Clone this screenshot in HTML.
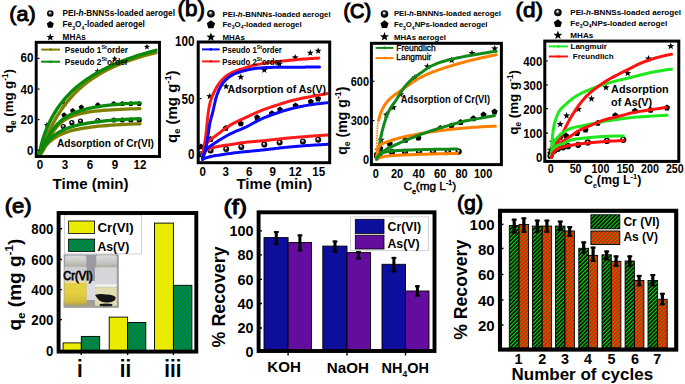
<!DOCTYPE html><html><head><meta charset="utf-8"><style>html,body{margin:0;padding:0;background:#fff;overflow:hidden}svg{display:block}text{font-family:"Liberation Sans",sans-serif;font-weight:bold}</style></head><body>
<svg width="685" height="384" viewBox="0 0 685 384">
<defs><pattern id="hatchE" patternUnits="userSpaceOnUse" width="3.3" height="3.3" patternTransform="rotate(45)"><rect width="3.3" height="3.3" fill="#007f7a"/><rect width="1.65" height="3.3" fill="#008a10"/></pattern><pattern id="hatchG" patternUnits="userSpaceOnUse" width="2.8" height="2.8" patternTransform="rotate(45)"><rect width="2.8" height="2.8" fill="#000"/><rect width="1.2" height="2.8" fill="#14d414"/></pattern><pattern id="hatchR" patternUnits="userSpaceOnUse" width="2.8" height="2.8" patternTransform="rotate(45)"><rect width="2.8" height="2.8" fill="#ff1200"/><rect width="0.95" height="2.8" fill="#4aa010"/></pattern><linearGradient id="photobg" x1="0" y1="0" x2="0" y2="1"><stop offset="0" stop-color="#b4b4ba"/><stop offset="1" stop-color="#a4a4aa"/></linearGradient><linearGradient id="capg" x1="0" y1="0" x2="0" y2="1"><stop offset="0" stop-color="#dcdcdc"/><stop offset="0.6" stop-color="#c6c4c0"/><stop offset="1" stop-color="#b0ac9e"/></linearGradient><linearGradient id="yliq" x1="0" y1="0" x2="0" y2="1"><stop offset="0" stop-color="#e2d04a"/><stop offset="0.5" stop-color="#e4d040"/><stop offset="0.85" stop-color="#d2be3a"/><stop offset="1" stop-color="#aca052"/></linearGradient></defs>
<defs><radialGradient id="ballg" cx="0.5" cy="0.5" r="0.5" fx="0.42" fy="0.33"><stop offset="0" stop-color="#fff"/><stop offset="0.18" stop-color="#ddd"/><stop offset="0.45" stop-color="#333"/><stop offset="0.8" stop-color="#000"/></radialGradient></defs>
<rect width="685" height="384" fill="#fff"/>
<text x="9.3" y="20.7" font-size="21" style="font-weight:normal" stroke="#000" stroke-width="0.95" textLength="26.4" lengthAdjust="spacingAndGlyphs">(a)</text>
<circle cx="50.3" cy="13.5" r="3.25" fill="url(#ballg)"/>
<path d="M50.3,20.97 L53.82,23.53 L52.47,27.66 L48.13,27.66 L46.78,23.53 Z" fill="#000"/>
<path d="M50.3,33.27 L51.3,35.93 L54.13,36.05 L51.91,37.82 L52.67,40.56 L50.3,38.99 L47.93,40.56 L48.69,37.82 L46.47,36.05 L49.3,35.93 Z" fill="#000"/>
<text x="62.6" y="16.4" font-size="8.22">PEI-<tspan font-style="italic">h</tspan>-BNNSs-loaded aerogel</text>
<text x="62.6" y="27" font-size="8.22">Fe<tspan font-size="5" dy="2.8">3</tspan><tspan dy="-2.8">O</tspan><tspan font-size="5" dy="2.8">4</tspan><tspan dy="-2.8">-loaded aerogel</tspan></text>
<text x="62.6" y="40" font-size="8.22">MHAs</text>
<path d="M46.9,121.8 L47.69,123.91 L49.94,124.01 L48.18,125.42 L48.78,127.59 L46.9,126.34 L45.02,127.59 L45.62,125.42 L43.86,124.01 L46.11,123.91 Z" fill="#000"/>
<path d="M64.7,100.8 L65.49,102.91 L67.74,103.01 L65.98,104.42 L66.58,106.59 L64.7,105.34 L62.82,106.59 L63.42,104.42 L61.66,103.01 L63.91,102.91 Z" fill="#000"/>
<path d="M97.5,68.05 L98.29,70.16 L100.54,70.26 L98.78,71.67 L99.38,73.84 L97.5,72.59 L95.62,73.84 L96.22,71.67 L94.46,70.26 L96.71,70.16 Z" fill="#000"/>
<path d="M114.7,55.55 L115.49,57.66 L117.74,57.76 L115.98,59.17 L116.58,61.34 L114.7,60.09 L112.82,61.34 L113.42,59.17 L111.66,57.76 L113.91,57.66 Z" fill="#000"/>
<path d="M146.9,43.7 L147.69,45.81 L149.94,45.91 L148.18,47.32 L148.78,49.49 L146.9,48.24 L145.02,49.49 L145.62,47.32 L143.86,45.91 L146.11,45.81 Z" fill="#000"/>
<path d="M64.1,112.28 L66.76,114.21 L65.75,117.35 L62.45,117.35 L61.44,114.21 Z" fill="#000"/>
<path d="M72.7,108.08 L75.36,110.01 L74.35,113.15 L71.05,113.15 L70.04,110.01 Z" fill="#000"/>
<path d="M81.3,104.48 L83.96,106.41 L82.95,109.55 L79.65,109.55 L78.64,106.41 Z" fill="#000"/>
<path d="M97.8,102.28 L100.46,104.21 L99.45,107.35 L96.15,107.35 L95.14,104.21 Z" fill="#000"/>
<path d="M113.8,100.98 L116.46,102.91 L115.45,106.05 L112.15,106.05 L111.14,102.91 Z" fill="#000"/>
<path d="M122.3,100.98 L124.96,102.91 L123.95,106.05 L120.65,106.05 L119.64,102.91 Z" fill="#000"/>
<path d="M130.8,100.98 L133.46,102.91 L132.45,106.05 L129.15,106.05 L128.14,102.91 Z" fill="#000"/>
<path d="M139.2,100.98 L141.86,102.91 L140.85,106.05 L137.55,106.05 L136.54,102.91 Z" fill="#000"/>
<circle cx="63.3" cy="126.6" r="2.6" fill="url(#ballg)"/>
<circle cx="71.9" cy="122.7" r="2.6" fill="url(#ballg)"/>
<circle cx="80.5" cy="121.1" r="2.6" fill="url(#ballg)"/>
<circle cx="97.8" cy="120.7" r="2.6" fill="url(#ballg)"/>
<circle cx="113.8" cy="120" r="2.6" fill="url(#ballg)"/>
<circle cx="122.3" cy="120" r="2.6" fill="url(#ballg)"/>
<circle cx="130.8" cy="120" r="2.6" fill="url(#ballg)"/>
<circle cx="139.2" cy="120" r="2.6" fill="url(#ballg)"/>
<path d="M39.5,154.5 L39.58,154.33 L39.81,153.77 L40.19,152.79 L40.73,151.4 L41.41,149.61 L42.26,147.43 L43.25,144.9 L44.4,142.05 L45.7,138.93 L47.16,135.59 L48.77,132.06 L50.53,128.39 L52.44,124.62 L54.51,120.8 L56.73,116.96 L59.11,113.12 L61.64,109.32 L64.32,105.58 L67.15,101.92 L70.14,98.35 L73.28,94.89 L76.57,91.54 L80.02,88.32 L83.62,85.22 L87.37,82.24 L91.28,79.4 L95.34,76.68 L99.55,74.09 L103.92,71.61 L108.43,69.26 L113.11,67.02 L117.93,64.89 L122.91,62.87 L128.04,60.95 L133.33,59.12 L138.77,57.39 L144.36,55.74 L150.1,54.18 L156,52.69" fill="none" stroke="#808000" stroke-width="3.4" stroke-linecap="round" stroke-linejoin="round"/>
<path d="M39.5,154.5 L39.58,153.69 L39.81,152.07 L40.19,149.91 L40.73,147.34 L41.41,144.46 L42.26,141.33 L43.25,138.02 L44.4,134.57 L45.7,131.03 L47.16,127.44 L48.77,123.82 L50.53,120.19 L52.44,116.59 L54.51,113.03 L56.73,109.52 L59.11,106.07 L61.64,102.7 L64.32,99.4 L67.15,96.2 L70.14,93.08 L73.28,90.05 L76.57,87.12 L80.02,84.28 L83.62,81.54 L87.37,78.88 L91.28,76.32 L95.34,73.85 L99.55,71.46 L103.92,69.16 L108.43,66.95 L113.11,64.81 L117.93,62.75 L122.91,60.77 L128.04,58.86 L133.33,57.02 L138.77,55.24 L144.36,53.53 L150.1,51.89 L156,50.3" fill="none" stroke="#0a8a0a" stroke-width="3.4" stroke-linecap="round" stroke-linejoin="round"/>
<path d="M39.5,154.5 L39.57,154.5 L39.76,154.45 L40.09,154.31 L40.56,153.98 L41.15,153.39 L41.88,152.45 L42.74,151.1 L43.73,149.32 L44.85,147.12 L46.11,144.56 L47.5,141.72 L49.01,138.72 L50.67,135.69 L52.45,132.71 L54.37,129.89 L56.42,127.27 L58.6,124.88 L60.91,122.74 L63.35,120.84 L65.93,119.18 L68.64,117.72 L71.48,116.45 L74.45,115.35 L77.56,114.39 L80.8,113.56 L84.17,112.84 L87.67,112.21 L91.3,111.66 L95.07,111.19 L98.97,110.77 L103,110.4 L107.16,110.08 L111.46,109.79 L115.88,109.54 L120.44,109.32 L125.13,109.12 L129.96,108.95 L134.91,108.79 L140,108.65" fill="none" stroke="#808000" stroke-width="3.3" stroke-linecap="round" stroke-linejoin="round"/>
<path d="M39.5,154.5 L39.57,154.46 L39.76,154.27 L40.09,153.83 L40.56,153.06 L41.15,151.93 L41.88,150.42 L42.74,148.55 L43.73,146.35 L44.85,143.89 L46.11,141.24 L47.5,138.47 L49.01,135.67 L50.67,132.89 L52.45,130.2 L54.37,127.62 L56.42,125.19 L58.6,122.93 L60.91,120.84 L63.35,118.92 L65.93,117.16 L68.64,115.57 L71.48,114.12 L74.45,112.81 L77.56,111.63 L80.8,110.56 L84.17,109.59 L87.67,108.72 L91.3,107.92 L95.07,107.21 L98.97,106.56 L103,105.97 L107.16,105.44 L111.46,104.95 L115.88,104.5 L120.44,104.1 L125.13,103.73 L129.96,103.39 L134.91,103.08 L140,102.8" fill="none" stroke="#0a8a0a" stroke-width="3.3" stroke-linecap="round" stroke-linejoin="round"/>
<path d="M39.5,154.5 L39.57,154.45 L39.76,154.22 L40.09,153.79 L40.56,153.13 L41.15,152.26 L41.88,151.17 L42.74,149.92 L43.73,148.53 L44.85,147.04 L46.11,145.49 L47.5,143.93 L49.01,142.38 L50.67,140.87 L52.45,139.42 L54.37,138.04 L56.42,136.75 L58.6,135.53 L60.91,134.4 L63.35,133.36 L65.93,132.4 L68.64,131.51 L71.48,130.7 L74.45,129.96 L77.56,129.28 L80.8,128.65 L84.17,128.08 L87.67,127.55 L91.3,127.07 L95.07,126.63 L98.97,126.23 L103,125.85 L107.16,125.51 L111.46,125.19 L115.88,124.9 L120.44,124.63 L125.13,124.38 L129.96,124.15 L134.91,123.94 L140,123.74" fill="none" stroke="#808000" stroke-width="3.3" stroke-linecap="round" stroke-linejoin="round"/>
<path d="M39.5,154.5 L39.57,154.43 L39.76,154.14 L40.09,153.6 L40.56,152.8 L41.15,151.74 L41.88,150.46 L42.74,148.98 L43.73,147.36 L44.85,145.64 L46.11,143.86 L47.5,142.07 L49.01,140.3 L50.67,138.57 L52.45,136.91 L54.37,135.33 L56.42,133.84 L58.6,132.45 L60.91,131.15 L63.35,129.95 L65.93,128.83 L68.64,127.8 L71.48,126.86 L74.45,125.99 L77.56,125.19 L80.8,124.45 L84.17,123.78 L87.67,123.16 L91.3,122.59 L95.07,122.06 L98.97,121.58 L103,121.13 L107.16,120.72 L111.46,120.34 L115.88,119.99 L120.44,119.66 L125.13,119.36 L129.96,119.08 L134.91,118.82 L140,118.58" fill="none" stroke="#0a8a0a" stroke-width="3.3" stroke-linecap="round" stroke-linejoin="round"/>
<rect x="36.2" y="42.3" width="123.3" height="114.2" fill="none" stroke="#000" stroke-width="2.9"/>
<text x="33.5" y="62.27" font-size="13.6" text-anchor="end" textLength="12.9" lengthAdjust="spacingAndGlyphs" >60</text>
<text x="33.5" y="93.87" font-size="13.6" text-anchor="end" textLength="12.9" lengthAdjust="spacingAndGlyphs" >40</text>
<text x="33.5" y="124.47" font-size="13.6" text-anchor="end" textLength="12.9" lengthAdjust="spacingAndGlyphs" >20</text>
<text x="33.5" y="155.07" font-size="13.6" text-anchor="end" textLength="6.45" lengthAdjust="spacingAndGlyphs" >0</text>
<text x="40" y="169.47" font-size="13.6" text-anchor="middle" textLength="6.45" lengthAdjust="spacingAndGlyphs" >0</text>
<text x="65" y="169.47" font-size="13.6" text-anchor="middle" textLength="6.45" lengthAdjust="spacingAndGlyphs" >3</text>
<text x="90" y="169.47" font-size="13.6" text-anchor="middle" textLength="6.45" lengthAdjust="spacingAndGlyphs" >6</text>
<text x="115" y="169.47" font-size="13.6" text-anchor="middle" textLength="6.45" lengthAdjust="spacingAndGlyphs" >9</text>
<text x="140" y="169.47" font-size="13.6" text-anchor="middle" textLength="12.9" lengthAdjust="spacingAndGlyphs" >12</text>
<line x1="37.5" y1="58.4" x2="39.5" y2="58.4" stroke="#000" stroke-width="1.2" />
<line x1="37.5" y1="89" x2="39.5" y2="89" stroke="#000" stroke-width="1.2" />
<line x1="37.5" y1="119.6" x2="39.5" y2="119.6" stroke="#000" stroke-width="1.2" />
<line x1="37.5" y1="150.2" x2="39.5" y2="150.2" stroke="#000" stroke-width="1.2" />
<text x="52.6" y="189.2" font-size="15.4" textLength="76" lengthAdjust="spacingAndGlyphs" >Time (min)</text>
<text transform="translate(13.3,133) rotate(-90)" font-size="13.2">q<tspan font-size="8.18" dy="2.9">e</tspan><tspan dy="-2.9"> (mg g</tspan><tspan font-size="8.18" dy="-5.54">-1</tspan><tspan dy="5.54">)</tspan></text>
<line x1="41.1" y1="49.6" x2="60.1" y2="49.6" stroke="#808000" stroke-width="2" />
<circle cx="50.6" cy="49.6" r="1.3" fill="#808000"/>
<line x1="41.1" y1="61.7" x2="60.1" y2="61.7" stroke="#0a8a0a" stroke-width="2" />
<circle cx="50.6" cy="61.7" r="1.3" fill="#0a8a0a"/>
<text x="64.8" y="53" font-size="8.5" textLength="63.2" lengthAdjust="spacingAndGlyphs">Pseudo 1<tspan font-size="5.78" dy="-3.57">St</tspan><tspan dy="3.57">order</tspan></text>
<text x="64.8" y="65" font-size="8.5" textLength="63.2" lengthAdjust="spacingAndGlyphs">Pseudo 2<tspan font-size="5.78" dy="-3.57">St</tspan><tspan dy="3.57">order</tspan></text>
<text x="56.9" y="146.7" font-size="10.4" textLength="97" lengthAdjust="spacingAndGlyphs" >Adsorption of Cr(VI)</text>
<text x="177.4" y="15.5" font-size="22.05" style="font-weight:normal" stroke="#000" stroke-width="0.95" textLength="27.5" lengthAdjust="spacingAndGlyphs">(b)</text>
<circle cx="210.9" cy="13.75" r="3.83" fill="url(#ballg)"/>
<path d="M210.9,20.28 L215.04,23.29 L213.46,28.16 L208.34,28.16 L206.76,23.29 Z" fill="#000"/>
<path d="M210.9,32.45 L212.07,35.59 L215.42,35.73 L212.8,37.82 L213.69,41.04 L210.9,39.2 L208.11,41.04 L209,37.82 L206.38,35.73 L209.73,35.59 Z" fill="#000"/>
<text x="222.5" y="16.7" font-size="7.88">PEI-<tspan font-style="italic">h</tspan>-BNNNs-loaded aerogel</text>
<text x="222.5" y="26.6" font-size="7.88">Fe<tspan font-size="5" dy="2.8">3</tspan><tspan dy="-2.8">O</tspan><tspan font-size="5" dy="2.8">4</tspan><tspan dy="-2.8">-loaded aerogel</tspan></text>
<text x="222.5" y="39.8" font-size="7.88">MHAs</text>
<path d="M209.7,92.7 L210.59,95.08 L213.12,95.19 L211.14,96.77 L211.82,99.21 L209.7,97.81 L207.58,99.21 L208.26,96.77 L206.28,95.19 L208.81,95.08 Z" fill="#000"/>
<path d="M226.1,82.8 L226.99,85.18 L229.52,85.29 L227.54,86.87 L228.22,89.31 L226.1,87.91 L223.98,89.31 L224.66,86.87 L222.68,85.29 L225.21,85.18 Z" fill="#000"/>
<path d="M240.8,73.4 L241.69,75.78 L244.22,75.89 L242.24,77.47 L242.92,79.91 L240.8,78.51 L238.68,79.91 L239.36,77.47 L237.38,75.89 L239.91,75.78 Z" fill="#000"/>
<path d="M264.3,66.4 L265.19,68.78 L267.72,68.89 L265.74,70.47 L266.42,72.91 L264.3,71.51 L262.18,72.91 L262.86,70.47 L260.88,68.89 L263.41,68.78 Z" fill="#000"/>
<path d="M279.4,60.4 L280.29,62.78 L282.82,62.89 L280.84,64.47 L281.52,66.91 L279.4,65.51 L277.28,66.91 L277.96,64.47 L275.98,62.89 L278.51,62.78 Z" fill="#000"/>
<path d="M295.2,53.9 L296.09,56.28 L298.62,56.39 L296.64,57.97 L297.32,60.41 L295.2,59.01 L293.08,60.41 L293.76,57.97 L291.78,56.39 L294.31,56.28 Z" fill="#000"/>
<path d="M310.3,49.3 L311.19,51.68 L313.72,51.79 L311.74,53.37 L312.42,55.81 L310.3,54.41 L308.18,55.81 L308.86,53.37 L306.88,51.79 L309.41,51.68 Z" fill="#000"/>
<path d="M318.2,47.3 L319.09,49.68 L321.62,49.79 L319.64,51.37 L320.32,53.81 L318.2,52.41 L316.08,53.81 L316.76,51.37 L314.78,49.79 L317.31,49.68 Z" fill="#000"/>
<path d="M200.9,143.52 L203.94,145.73 L202.78,149.31 L199.02,149.31 L197.86,145.73 Z" fill="#000"/>
<path d="M210.6,136.12 L213.64,138.33 L212.48,141.91 L208.72,141.91 L207.56,138.33 Z" fill="#000"/>
<path d="M225.8,124.92 L228.84,127.13 L227.68,130.71 L223.92,130.71 L222.76,127.13 Z" fill="#000"/>
<path d="M240.8,120.52 L243.84,122.73 L242.68,126.31 L238.92,126.31 L237.76,122.73 Z" fill="#000"/>
<path d="M257.1,114.32 L260.14,116.53 L258.98,120.11 L255.22,120.11 L254.06,116.53 Z" fill="#000"/>
<path d="M271.9,110.32 L274.94,112.53 L273.78,116.11 L270.02,116.11 L268.86,112.53 Z" fill="#000"/>
<path d="M280,106.42 L283.04,108.63 L281.88,112.21 L278.12,112.21 L276.96,108.63 Z" fill="#000"/>
<path d="M295.5,102.52 L298.54,104.73 L297.38,108.31 L293.62,108.31 L292.46,104.73 Z" fill="#000"/>
<path d="M310.8,98.52 L313.84,100.73 L312.68,104.31 L308.92,104.31 L307.76,100.73 Z" fill="#000"/>
<path d="M318.1,95.62 L321.14,97.83 L319.98,101.41 L316.22,101.41 L315.06,97.83 Z" fill="#000"/>
<circle cx="200.9" cy="154.2" r="3" fill="url(#ballg)"/>
<circle cx="210.6" cy="150.5" r="3" fill="url(#ballg)"/>
<circle cx="226.2" cy="149" r="3" fill="url(#ballg)"/>
<circle cx="241.3" cy="146.9" r="3" fill="url(#ballg)"/>
<circle cx="264.3" cy="144.6" r="3" fill="url(#ballg)"/>
<circle cx="279.6" cy="142.5" r="3" fill="url(#ballg)"/>
<circle cx="302.9" cy="141.5" r="3" fill="url(#ballg)"/>
<circle cx="318.2" cy="139.8" r="3" fill="url(#ballg)"/>
<path d="M202.6,159.2 L202.66,157.7 L202.75,156.21 L202.87,154.71 L203.04,153.23 L203.25,151.75 L203.49,150.27 L203.73,148.79 L203.97,147.31 L204.21,145.83 L204.46,144.35 L204.71,142.87 L204.96,141.39 L205.2,139.91 L205.44,138.43 L205.66,136.95 L205.86,135.46 L206.03,133.97 L206.2,132.48 L206.34,130.99 L206.48,129.49 L206.62,128 L206.76,126.51 L206.9,125.01 L207.05,123.52 L207.2,122.03 L207.35,120.53 L207.5,119.04 L207.65,117.55 L207.82,116.06 L207.99,114.57 L208.18,113.08 L208.39,111.6 L208.61,110.11 L208.85,108.63 L209.12,107.16 L209.4,105.69 L209.72,104.22 L210.07,102.76 L210.46,101.32 L210.9,99.89 L211.38,98.47 L211.9,97.06 L212.47,95.68 L213.06,94.3 L213.69,92.94 L214.33,91.58 L215,90.24 L215.7,88.92 L216.43,87.61 L217.2,86.32 L218.02,85.07 L218.87,83.84 L219.77,82.64 L220.71,81.48 L221.69,80.35 L222.72,79.25 L223.78,78.2 L224.89,77.2 L226.04,76.25 L227.25,75.37 L228.5,74.55 L229.79,73.79 L231.11,73.08 L232.45,72.42 L233.82,71.81 L235.2,71.23 L236.6,70.7 L238.02,70.2 L239.44,69.73 L240.87,69.28 L242.3,68.83 L243.73,68.37 L245.15,67.89 L246.57,67.41 L247.99,66.93 L249.42,66.47 L250.85,66.05 L252.3,65.66 L253.76,65.3 L255.22,64.98 L256.69,64.68 L258.16,64.4 L259.64,64.13 L261.12,63.87 L262.6,63.63 L264.08,63.39 L265.56,63.16 L267.04,62.94 L268.53,62.74 L270.02,62.53 L271.5,62.34 L272.99,62.15 L274.48,61.97 L275.97,61.79 L277.46,61.62 L278.95,61.45 L280.44,61.29 L281.93,61.13 L283.42,60.96 L284.91,60.81 L286.41,60.65 L287.9,60.49 L289.39,60.34 L290.88,60.19 L292.38,60.05 L293.87,59.9 L295.36,59.76 L296.86,59.62 L298.35,59.49 L299.84,59.36 L301.34,59.23 L302.83,59.11 L304.33,58.99 L305.82,58.88 L307.32,58.77 L308.82,58.67 L310.31,58.57 L311.81,58.47 L313.31,58.38 L314.81,58.3 L316.3,58.22 L317.8,58.15 L318.8,58.1" fill="none" stroke="#ff1a1a" stroke-width="3" stroke-linecap="round" stroke-linejoin="round"/>
<path d="M202.6,159.2 L202.79,157.71 L202.99,156.23 L203.2,154.74 L203.43,153.26 L203.71,151.79 L204.05,150.34 L204.47,148.9 L204.98,147.5 L205.56,146.13 L206.22,144.78 L206.94,143.48 L207.75,142.25 L208.68,141.11 L209.72,140.08 L210.87,139.14 L212.08,138.27 L213.31,137.42 L214.54,136.56 L215.77,135.7 L216.98,134.81 L218.17,133.91 L219.36,132.98 L220.53,132.05 L221.7,131.11 L222.88,130.19 L224.07,129.28 L225.29,128.4 L226.52,127.54 L227.76,126.71 L229.02,125.9 L230.3,125.11 L231.59,124.35 L232.9,123.62 L234.22,122.91 L235.56,122.24 L236.91,121.58 L238.27,120.95 L239.63,120.32 L241,119.7 L242.36,119.08 L243.72,118.45 L245.08,117.82 L246.44,117.18 L247.8,116.54 L249.15,115.89 L250.51,115.25 L251.87,114.62 L253.23,113.99 L254.59,113.37 L255.97,112.76 L257.34,112.16 L258.72,111.58 L260.11,111.02 L261.51,110.47 L262.91,109.94 L264.32,109.42 L265.73,108.91 L267.14,108.41 L268.56,107.91 L269.98,107.43 L271.4,106.95 L272.82,106.48 L274.25,106.01 L275.67,105.54 L277.1,105.07 L278.52,104.6 L279.95,104.14 L281.37,103.67 L282.8,103.21 L284.23,102.75 L285.66,102.31 L287.1,101.87 L288.54,101.45 L289.98,101.04 L291.43,100.65 L292.88,100.28 L294.34,99.93 L295.8,99.59 L297.26,99.26 L298.73,98.94 L300.2,98.64 L301.67,98.34 L303.14,98.04 L304.61,97.75 L306.08,97.47 L307.56,97.18 L309.03,96.89 L310.5,96.61 L311.97,96.33 L313.45,96.04 L314.92,95.77 L316.39,95.49 L317.87,95.21 L319.34,94.94 L320.82,94.68 L322.29,94.41 L323.74,94.15 L325.16,93.9 L326.54,93.66 L327,93.58" fill="none" stroke="#ff1a1a" stroke-width="3" stroke-linecap="round" stroke-linejoin="round"/>
<path d="M202.6,159.2 L203.02,157.76 L203.46,156.33 L203.92,154.9 L204.43,153.51 L205.04,152.18 L205.81,150.98 L206.77,149.97 L207.93,149.19 L209.25,148.61 L210.66,148.17 L212.1,147.79 L213.56,147.45 L215.02,147.13 L216.49,146.83 L217.96,146.54 L219.44,146.26 L220.92,146 L222.4,145.76 L223.88,145.52 L225.36,145.3 L226.84,145.09 L228.33,144.88 L229.82,144.67 L231.3,144.46 L232.78,144.24 L234.27,144.01 L235.75,143.77 L237.23,143.52 L238.71,143.27 L240.19,143.03 L241.67,142.8 L243.15,142.58 L244.64,142.39 L246.13,142.22 L247.62,142.08 L249.12,141.95 L250.61,141.83 L252.11,141.72 L253.6,141.6 L255.1,141.48 L256.59,141.35 L258.08,141.21 L259.58,141.07 L261.07,140.93 L262.56,140.77 L264.06,140.62 L265.55,140.46 L267.04,140.3 L268.53,140.14 L270.02,139.97 L271.51,139.81 L273,139.64 L274.49,139.48 L275.98,139.31 L277.47,139.14 L278.97,138.98 L280.46,138.82 L281.95,138.66 L283.44,138.5 L284.93,138.34 L286.42,138.19 L287.92,138.05 L289.41,137.9 L290.9,137.77 L292.4,137.63 L293.89,137.5 L295.39,137.37 L296.88,137.25 L298.38,137.12 L299.87,137 L301.37,136.88 L302.86,136.76 L304.36,136.64 L305.85,136.53 L307.35,136.41 L308.84,136.3 L310.34,136.19 L311.83,136.08 L313.33,135.97 L314.83,135.86 L316.32,135.76 L317.82,135.65 L319.32,135.55 L320.81,135.45 L322.31,135.35 L323.79,135.26 L325.24,135.17 L326.64,135.08 L328,135" fill="none" stroke="#ff1a1a" stroke-width="3" stroke-linecap="round" stroke-linejoin="round"/>
<path d="M202.6,159.2 L202.98,157.75 L203.37,156.3 L203.79,154.86 L204.22,153.43 L204.65,151.99 L205.06,150.55 L205.43,149.1 L205.78,147.64 L206.1,146.17 L206.4,144.71 L206.7,143.23 L206.98,141.76 L207.25,140.29 L207.51,138.81 L207.76,137.33 L208,135.85 L208.22,134.37 L208.43,132.88 L208.63,131.39 L208.82,129.91 L209.02,128.42 L209.24,126.94 L209.47,125.46 L209.74,123.98 L210.04,122.51 L210.38,121.05 L210.73,119.6 L211.11,118.14 L211.5,116.7 L211.9,115.25 L212.3,113.8 L212.67,112.35 L213.03,110.9 L213.37,109.43 L213.69,107.97 L214.01,106.5 L214.33,105.04 L214.65,103.58 L214.99,102.11 L215.34,100.65 L215.7,99.2 L216.09,97.75 L216.52,96.32 L216.98,94.89 L217.49,93.48 L218.04,92.09 L218.62,90.71 L219.24,89.34 L219.9,88 L220.61,86.68 L221.38,85.4 L222.19,84.14 L223.07,82.93 L224,81.76 L224.99,80.64 L226.03,79.56 L227.12,78.55 L228.27,77.59 L229.47,76.7 L230.71,75.88 L232,75.12 L233.33,74.43 L234.69,73.8 L236.07,73.23 L237.47,72.71 L238.9,72.24 L240.33,71.81 L241.77,71.4 L243.22,71 L244.67,70.61 L246.12,70.23 L247.57,69.86 L249.03,69.51 L250.49,69.2 L251.97,68.93 L253.45,68.7 L254.94,68.51 L256.42,68.33 L257.92,68.17 L259.41,68.03 L260.9,67.9 L262.4,67.78 L263.89,67.67 L265.39,67.58 L266.89,67.51 L268.39,67.46 L269.89,67.42 L271.39,67.39 L272.89,67.37 L274.39,67.35 L275.89,67.33 L277.39,67.31 L278.89,67.3 L280.39,67.28 L281.89,67.27 L283.39,67.25 L284.89,67.24 L286.39,67.23 L287.89,67.22 L289.39,67.21 L290.89,67.19 L292.39,67.18 L293.89,67.18 L295.39,67.17 L296.89,67.16 L298.39,67.15 L299.89,67.14 L301.39,67.14 L302.89,67.13 L304.39,67.13 L305.89,67.12 L307.39,67.12 L308.89,67.11 L310.39,67.11 L311.89,67.11 L313.38,67.1 L314.87,67.1 L316.32,67.1 L317.72,67.1 L319.06,67.1 L319.5,67.1" fill="none" stroke="#0a0aff" stroke-width="3" stroke-linecap="round" stroke-linejoin="round"/>
<path d="M202.6,159.2 L202.96,157.74 L203.33,156.29 L203.73,154.85 L204.17,153.42 L204.7,152.04 L205.36,150.74 L206.19,149.54 L207.18,148.46 L208.3,147.51 L209.5,146.63 L210.74,145.8 L211.99,144.98 L213.24,144.15 L214.49,143.31 L215.73,142.48 L216.99,141.65 L218.25,140.84 L219.51,140.04 L220.79,139.25 L222.07,138.48 L223.37,137.72 L224.67,136.97 L225.97,136.23 L227.28,135.51 L228.61,134.8 L229.94,134.1 L231.28,133.43 L232.63,132.78 L233.99,132.16 L235.36,131.55 L236.74,130.97 L238.13,130.4 L239.52,129.83 L240.91,129.27 L242.3,128.7 L243.67,128.11 L245.04,127.49 L246.4,126.85 L247.74,126.18 L249.07,125.49 L250.38,124.77 L251.69,124.04 L253,123.3 L254.3,122.56 L255.61,121.83 L256.94,121.12 L258.27,120.44 L259.61,119.78 L260.97,119.15 L262.35,118.54 L263.72,117.95 L265.11,117.38 L266.5,116.82 L267.9,116.27 L269.3,115.74 L270.71,115.22 L272.12,114.7 L273.53,114.2 L274.95,113.71 L276.37,113.22 L277.79,112.74 L279.21,112.27 L280.64,111.8 L282.06,111.34 L283.5,110.89 L284.93,110.46 L286.37,110.03 L287.81,109.61 L289.25,109.21 L290.7,108.83 L292.16,108.45 L293.61,108.1 L295.07,107.75 L296.53,107.42 L298,107.09 L299.46,106.77 L300.93,106.47 L302.4,106.18 L303.88,105.89 L305.35,105.62 L306.83,105.37 L308.31,105.12 L309.79,104.89 L311.27,104.67 L312.76,104.45 L314.24,104.24 L315.73,104.04 L317.22,103.84 L318.71,103.66 L320.19,103.48 L321.68,103.31 L323.16,103.16 L324.62,103.01 L326.05,102.88 L327,102.79" fill="none" stroke="#0a0aff" stroke-width="3" stroke-linecap="round" stroke-linejoin="round"/>
<path d="M202.6,159.2 L204,158.66 L205.41,158.14 L206.82,157.65 L208.25,157.2 L209.69,156.79 L211.14,156.43 L212.61,156.11 L214.08,155.84 L215.56,155.6 L217.05,155.38 L218.53,155.17 L220.02,154.97 L221.5,154.76 L222.98,154.54 L224.47,154.31 L225.95,154.08 L227.43,153.85 L228.91,153.62 L230.4,153.41 L231.88,153.2 L233.37,153 L234.86,152.81 L236.35,152.63 L237.84,152.46 L239.33,152.3 L240.82,152.13 L242.31,151.98 L243.8,151.82 L245.3,151.68 L246.79,151.53 L248.28,151.4 L249.78,151.26 L251.27,151.13 L252.77,151 L254.26,150.86 L255.75,150.72 L257.25,150.57 L258.74,150.42 L260.23,150.26 L261.72,150.1 L263.21,149.93 L264.7,149.76 L266.19,149.59 L267.68,149.42 L269.17,149.24 L270.66,149.07 L272.15,148.89 L273.64,148.72 L275.13,148.54 L276.62,148.37 L278.11,148.2 L279.6,148.03 L281.09,147.86 L282.58,147.69 L284.07,147.53 L285.57,147.38 L287.06,147.23 L288.55,147.08 L290.04,146.94 L291.54,146.81 L293.03,146.68 L294.53,146.55 L296.02,146.43 L297.52,146.31 L299.01,146.19 L300.51,146.07 L302,145.96 L303.5,145.84 L305,145.73 L306.49,145.62 L307.99,145.51 L309.48,145.41 L310.98,145.3 L312.48,145.2 L313.97,145.1 L315.47,145.01 L316.97,144.91 L318.46,144.82 L319.96,144.73 L321.46,144.65 L322.95,144.56 L324.41,144.49 L325.81,144.41 L327.14,144.34 L328,144.3" fill="none" stroke="#0a0aff" stroke-width="3" stroke-linecap="round" stroke-linejoin="round"/>
<rect x="198.2" y="42" width="131.5" height="120.7" fill="none" stroke="#000" stroke-width="3"/>
<text x="194.4" y="46.34" font-size="13.8" text-anchor="end" textLength="19.5" lengthAdjust="spacingAndGlyphs" >100</text>
<text x="194.4" y="103.54" font-size="13.8" text-anchor="end" textLength="13" lengthAdjust="spacingAndGlyphs" >50</text>
<text x="194.4" y="158.74" font-size="13.8" text-anchor="end" textLength="6.5" lengthAdjust="spacingAndGlyphs" >0</text>
<text x="202.8" y="175.87" font-size="13.6" text-anchor="middle" textLength="6.45" lengthAdjust="spacingAndGlyphs" >0</text>
<text x="225.8" y="175.87" font-size="13.6" text-anchor="middle" textLength="6.45" lengthAdjust="spacingAndGlyphs" >3</text>
<text x="249.2" y="175.87" font-size="13.6" text-anchor="middle" textLength="6.45" lengthAdjust="spacingAndGlyphs" >6</text>
<text x="272.8" y="175.87" font-size="13.6" text-anchor="middle" textLength="6.45" lengthAdjust="spacingAndGlyphs" >9</text>
<text x="295.3" y="175.87" font-size="13.6" text-anchor="middle" textLength="12.9" lengthAdjust="spacingAndGlyphs" >12</text>
<text x="318.7" y="175.87" font-size="13.6" text-anchor="middle" textLength="12.9" lengthAdjust="spacingAndGlyphs" >15</text>
<line x1="199.5" y1="98.6" x2="201.5" y2="98.6" stroke="#000" stroke-width="1.2" />
<line x1="199.5" y1="153.8" x2="201.5" y2="153.8" stroke="#000" stroke-width="1.2" />
<text x="236.4" y="189.2" font-size="15.4" textLength="76" lengthAdjust="spacingAndGlyphs" >Time (min)</text>
<text transform="translate(177,143) rotate(-90)" font-size="15">q<tspan font-size="9.3" dy="3.3">e</tspan><tspan dy="-3.3"> (mg g</tspan><tspan font-size="9.3" dy="-6.3">-1</tspan><tspan dy="6.3">)</tspan></text>
<line x1="202" y1="49.4" x2="219.7" y2="49.4" stroke="#0a0aff" stroke-width="2" />
<circle cx="210.85" cy="49.4" r="1.3" fill="#0a0aff"/>
<line x1="202" y1="61.4" x2="219.7" y2="61.4" stroke="#ff1a1a" stroke-width="2" />
<circle cx="210.85" cy="61.4" r="1.3" fill="#ff1a1a"/>
<text x="222.3" y="53" font-size="8.5" textLength="59.6" lengthAdjust="spacingAndGlyphs">Pseudo 1<tspan font-size="5.78" dy="-3.57">St</tspan><tspan dy="3.57">order</tspan></text>
<text x="222.3" y="65" font-size="8.5" textLength="59.6" lengthAdjust="spacingAndGlyphs">Pseudo 2<tspan font-size="5.78" dy="-3.57">St</tspan><tspan dy="3.57">order</tspan></text>
<text x="227.6" y="92.6" font-size="10.6" textLength="98.4" lengthAdjust="spacingAndGlyphs" >Adsorption of As(V)</text>
<text x="343.5" y="18.3" font-size="21" style="font-weight:normal" stroke="#000" stroke-width="1.15" textLength="27.5" lengthAdjust="spacingAndGlyphs">(C)</text>
<circle cx="384.5" cy="13.9" r="3.77" fill="url(#ballg)"/>
<path d="M384.5,20.24 L388.58,23.2 L387.02,28 L381.98,28 L380.42,23.2 Z" fill="#000"/>
<path d="M384.5,32.12 L385.66,35.21 L388.95,35.35 L386.37,37.41 L387.25,40.59 L384.5,38.77 L381.75,40.59 L382.63,37.41 L380.05,35.35 L383.34,35.21 Z" fill="#000"/>
<text x="393.9" y="16.4" font-size="7.8">PEI-<tspan font-style="italic">h</tspan>-BNNNs-loaded aerogel</text>
<text x="393.9" y="27" font-size="7.8">Fe<tspan font-size="5" dy="2.8">3</tspan><tspan dy="-2.8">O</tspan><tspan font-size="5" dy="2.8">4</tspan><tspan dy="-2.8">NPs-loaded aerogel</tspan></text>
<text x="393.9" y="39.9" font-size="7.8">MHAs aerogel</text>
<path d="M378,146.3 L378.91,148.74 L381.52,148.86 L379.48,150.48 L380.17,152.99 L378,151.55 L375.83,152.99 L376.52,150.48 L374.48,148.86 L377.09,148.74 Z" fill="#000"/>
<path d="M381,136.3 L381.91,138.74 L384.52,138.86 L382.48,140.48 L383.17,142.99 L381,141.55 L378.83,142.99 L379.52,140.48 L377.48,138.86 L380.09,138.74 Z" fill="#000"/>
<path d="M386.4,111.1 L387.31,113.54 L389.92,113.66 L387.88,115.28 L388.57,117.79 L386.4,116.35 L384.23,117.79 L384.92,115.28 L382.88,113.66 L385.49,113.54 Z" fill="#000"/>
<path d="M393.4,103.8 L394.31,106.24 L396.92,106.36 L394.88,107.98 L395.57,110.49 L393.4,109.05 L391.23,110.49 L391.92,107.98 L389.88,106.36 L392.49,106.24 Z" fill="#000"/>
<path d="M400.6,90.8 L401.51,93.24 L404.12,93.36 L402.08,94.98 L402.77,97.49 L400.6,96.05 L398.43,97.49 L399.12,94.98 L397.08,93.36 L399.69,93.24 Z" fill="#000"/>
<path d="M414.9,73.9 L415.81,76.34 L418.42,76.46 L416.38,78.08 L417.07,80.59 L414.9,79.15 L412.73,80.59 L413.42,78.08 L411.38,76.46 L413.99,76.34 Z" fill="#000"/>
<path d="M427.5,62.9 L428.41,65.34 L431.02,65.46 L428.98,67.08 L429.67,69.59 L427.5,68.15 L425.33,69.59 L426.02,67.08 L423.98,65.46 L426.59,65.34 Z" fill="#000"/>
<path d="M451.7,56.6 L452.61,59.04 L455.22,59.16 L453.18,60.78 L453.87,63.29 L451.7,61.85 L449.53,63.29 L450.22,60.78 L448.18,59.16 L450.79,59.04 Z" fill="#000"/>
<path d="M472,49.6 L472.91,52.04 L475.52,52.16 L473.48,53.78 L474.17,56.29 L472,54.85 L469.83,56.29 L470.52,53.78 L468.48,52.16 L471.09,52.04 Z" fill="#000"/>
<path d="M494.7,44.9 L495.61,47.34 L498.22,47.46 L496.18,49.08 L496.87,51.59 L494.7,50.15 L492.53,51.59 L493.22,49.08 L491.18,47.46 L493.79,47.34 Z" fill="#000"/>
<path d="M377,151.03 L380.14,153.31 L378.94,157 L375.06,157 L373.86,153.31 Z" fill="#000"/>
<path d="M380.2,145.33 L383.34,147.61 L382.14,151.3 L378.26,151.3 L377.06,147.61 Z" fill="#000"/>
<path d="M389.7,140.53 L392.84,142.81 L391.64,146.5 L387.76,146.5 L386.56,142.81 Z" fill="#000"/>
<path d="M405.6,136.83 L408.74,139.11 L407.54,142.8 L403.66,142.8 L402.46,139.11 Z" fill="#000"/>
<path d="M418.4,134.63 L421.54,136.91 L420.34,140.6 L416.46,140.6 L415.26,136.91 Z" fill="#000"/>
<path d="M440.4,124.93 L443.54,127.21 L442.34,130.9 L438.46,130.9 L437.26,127.21 Z" fill="#000"/>
<path d="M451.4,122.43 L454.54,124.71 L453.34,128.4 L449.46,128.4 L448.26,124.71 Z" fill="#000"/>
<path d="M460.7,119.03 L463.84,121.31 L462.64,125 L458.76,125 L457.56,121.31 Z" fill="#000"/>
<path d="M473.4,115.33 L476.54,117.61 L475.34,121.3 L471.46,121.3 L470.26,117.61 Z" fill="#000"/>
<path d="M483.5,111.43 L486.64,113.71 L485.44,117.4 L481.56,117.4 L480.36,113.71 Z" fill="#000"/>
<path d="M494.5,108.53 L497.64,110.81 L496.44,114.5 L492.56,114.5 L491.36,110.81 Z" fill="#000"/>
<circle cx="377" cy="156" r="3.1" fill="url(#ballg)"/>
<circle cx="380" cy="153" r="3.1" fill="url(#ballg)"/>
<circle cx="392" cy="151.9" r="3.1" fill="url(#ballg)"/>
<circle cx="405" cy="151.9" r="3.1" fill="url(#ballg)"/>
<circle cx="419" cy="151.8" r="3.1" fill="url(#ballg)"/>
<circle cx="433" cy="151.7" r="3.1" fill="url(#ballg)"/>
<circle cx="447.9" cy="151.7" r="3.1" fill="url(#ballg)"/>
<circle cx="458.7" cy="151.6" r="3.1" fill="url(#ballg)"/>
<path d="M376.6,159.1 L376.62,157.6 L376.65,156.1 L376.67,154.6 L376.7,153.1 L376.72,151.6 L376.75,150.1 L376.77,148.6 L376.8,147.1 L376.82,145.6 L376.85,144.1 L376.87,142.6 L376.9,141.1 L376.93,139.6 L376.96,138.1 L376.99,136.6 L377.03,135.1 L377.07,133.6 L377.13,132.11 L377.21,130.61 L377.31,129.11 L377.44,127.62 L377.59,126.13 L377.79,124.64 L378.02,123.16 L378.29,121.69 L378.61,120.22" fill="none" stroke="#ff8000" stroke-width="1.7" stroke-dasharray="1.6 0.9"/>
<path d="M378.61,120.22 L378.96,118.77 L379.35,117.32 L379.77,115.88 L380.23,114.46 L380.74,113.05 L381.29,111.65 L381.88,110.28 L382.51,108.92 L383.2,107.59 L383.94,106.29 L384.73,105.02 L385.58,103.79 L386.49,102.6 L387.43,101.44 L388.43,100.33 L389.47,99.25 L390.56,98.23 L391.69,97.24 L392.85,96.29 L394.04,95.38 L395.24,94.48 L396.45,93.6 L397.67,92.72 L398.9,91.86 L400.13,91.01 L401.36,90.15 L402.59,89.29 L403.81,88.42 L405.03,87.55 L406.25,86.67 L407.47,85.8 L408.69,84.93 L409.91,84.06 L411.14,83.2 L412.38,82.35 L413.63,81.52 L414.89,80.72 L416.18,79.95 L417.48,79.2 L418.79,78.48 L420.11,77.76 L421.44,77.07 L422.78,76.39 L424.12,75.73 L425.48,75.09 L426.84,74.46 L428.21,73.85 L429.59,73.25 L430.97,72.68 L432.36,72.12 L433.76,71.58 L435.16,71.05 L436.57,70.54 L437.99,70.04 L439.41,69.55 L440.83,69.07 L442.25,68.6 L443.68,68.13 L445.1,67.67 L446.53,67.22 L447.96,66.77 L449.4,66.32 L450.83,65.88 L452.27,65.45 L453.71,65.02 L455.15,64.6 L456.59,64.19 L458.03,63.78 L459.47,63.37 L460.92,62.97 L462.37,62.58 L463.82,62.19 L465.26,61.8 L466.72,61.42 L468.17,61.04 L469.62,60.67 L471.07,60.31 L472.53,59.94 L473.99,59.59 L475.45,59.24 L476.91,58.9 L478.37,58.56 L479.83,58.22 L481.29,57.89 L482.76,57.57 L484.22,57.25 L485.69,56.93 L487.16,56.62 L488.63,56.31 L490.09,56.01 L491.56,55.72 L493,55.43 L494.41,55.15 L495.79,54.89 L496.25,54.8" fill="none" stroke="#ff8000" stroke-width="3" stroke-linecap="round" stroke-linejoin="round"/>
<path d="M376.6,159.1 L377.03,157.66 L377.43,156.22 L377.81,154.77 L378.15,153.31 L378.47,151.85 L378.76,150.37 L379.03,148.9 L379.28,147.42 L379.51,145.94 L379.72,144.46 L379.93,142.97 L380.15,141.49 L380.37,140 L380.61,138.52 L380.88,137.05 L381.17,135.58 L381.48,134.11 L381.82,132.65 L382.16,131.19 L382.53,129.73 L382.91,128.28 L383.31,126.84 L383.71,125.39 L384.13,123.95 L384.57,122.52 L385.01,121.09 L385.47,119.66 L385.96,118.24 L386.46,116.83 L387,115.43 L387.56,114.04 L388.16,112.67 L388.8,111.31 L389.48,109.98 L390.21,108.67 L390.99,107.39 L391.82,106.14 L392.68,104.92 L393.57,103.71 L394.45,102.5 L395.32,101.28 L396.15,100.03 L396.95,98.76 L397.72,97.48 L398.47,96.18 L399.22,94.89 L399.99,93.6 L400.79,92.33 L401.61,91.08 L402.47,89.85 L403.35,88.64 L404.27,87.45 L405.21,86.28 L406.17,85.14 L407.16,84.01 L408.17,82.9 L409.2,81.81 L410.26,80.75 L411.36,79.73 L412.48,78.75 L413.65,77.81 L414.85,76.91 L416.08,76.06 L417.33,75.23 L418.58,74.4 L419.83,73.57 L421.06,72.72 L422.29,71.85 L423.5,70.98 L424.72,70.1 L425.95,69.24 L427.19,68.4 L428.45,67.6 L429.75,66.85 L431.07,66.15 L432.42,65.5 L433.79,64.88 L435.16,64.29 L436.56,63.73 L437.96,63.2 L439.37,62.69 L440.78,62.2 L442.21,61.73 L443.64,61.29 L445.08,60.86 L446.52,60.45 L447.97,60.06 L449.42,59.69 L450.88,59.34 L452.34,59 L453.8,58.67 L455.27,58.35 L456.74,58.04 L458.21,57.74 L459.68,57.45 L461.15,57.15 L462.62,56.86 L464.09,56.58 L465.57,56.3 L467.04,56.03 L468.52,55.76 L470,55.5 L471.47,55.24 L472.95,54.98 L474.43,54.72 L475.91,54.47 L477.39,54.22 L478.87,53.97 L480.34,53.72 L481.82,53.48 L483.3,53.23 L484.78,52.99 L486.27,52.75 L487.75,52.52 L489.23,52.28 L490.7,52.05 L492.16,51.82 L493.58,51.61 L494.94,51.4 L496.25,51.2" fill="none" stroke="#13881a" stroke-width="3" stroke-linecap="round" stroke-linejoin="round"/>
<path d="M376.6,159.1 L376.74,157.61 L376.88,156.11 L377.03,154.62 L377.17,153.13 L377.33,151.64 L377.53,150.16 L377.81,148.73 L378.25,147.38 L378.93,146.2 L379.88,145.22 L381.05,144.43 L382.36,143.79 L383.74,143.22 L385.13,142.68 L386.53,142.15 L387.94,141.63 L389.35,141.13 L390.77,140.64 L392.2,140.17 L393.62,139.72 L395.06,139.27 L396.49,138.84 L397.93,138.41 L399.37,138 L400.82,137.6 L402.27,137.22 L403.72,136.85 L405.18,136.52 L406.65,136.2 L408.12,135.91 L409.59,135.63 L411.07,135.37 L412.55,135.11 L414.03,134.86 L415.51,134.6 L416.98,134.35 L418.46,134.08 L419.94,133.82 L421.41,133.56 L422.89,133.3 L424.37,133.04 L425.85,132.78 L427.33,132.53 L428.81,132.29 L430.29,132.06 L431.77,131.83 L433.25,131.61 L434.74,131.4 L436.22,131.19 L437.71,130.98 L439.2,130.78 L440.68,130.59 L442.17,130.4 L443.66,130.21 L445.15,130.03 L446.64,129.85 L448.13,129.68 L449.62,129.51 L451.11,129.34 L452.6,129.18 L454.09,129.01 L455.58,128.85 L457.07,128.7 L458.57,128.55 L460.06,128.4 L461.55,128.26 L463.05,128.13 L464.54,128.01 L466.04,127.89 L467.53,127.77 L469.03,127.66 L470.52,127.56 L472.02,127.45 L473.52,127.35 L475.01,127.25 L476.51,127.15 L478.01,127.05 L479.5,126.96 L481,126.87 L482.5,126.78 L484,126.7 L485.5,126.62 L486.99,126.54 L488.49,126.47 L489.99,126.41 L491.48,126.34 L492.96,126.29 L494.43,126.23 L495.4,126.2" fill="none" stroke="#ff8000" stroke-width="3" stroke-linecap="round" stroke-linejoin="round"/>
<path d="M376.6,159.1 L377.38,157.82 L378.2,156.57 L379.07,155.37 L380.03,154.23 L381.08,153.18 L382.21,152.21 L383.4,151.3 L384.63,150.46 L385.9,149.66 L387.19,148.9 L388.5,148.18 L389.83,147.49 L391.18,146.82 L392.53,146.17 L393.89,145.54 L395.25,144.91 L396.61,144.28 L397.98,143.67 L399.35,143.06 L400.72,142.45 L402.1,141.86 L403.48,141.27 L404.86,140.68 L406.25,140.11 L407.63,139.53 L409.02,138.96 L410.41,138.4 L411.8,137.85 L413.2,137.3 L414.6,136.76 L416,136.23 L417.41,135.7 L418.81,135.18 L420.22,134.67 L421.63,134.16 L423.04,133.65 L424.46,133.15 L425.87,132.65 L427.29,132.16 L428.71,131.68 L430.13,131.2 L431.56,130.72 L432.98,130.25 L434.41,129.79 L435.83,129.33 L437.26,128.88 L438.7,128.43 L440.13,127.99 L441.56,127.55 L443,127.11 L444.44,126.68 L445.87,126.26 L447.31,125.83 L448.75,125.41 L450.19,125 L451.63,124.58 L453.07,124.16 L454.52,123.74 L455.96,123.33 L457.4,122.93 L458.85,122.53 L460.3,122.15 L461.75,121.77 L463.21,121.42 L464.67,121.08 L466.13,120.76 L467.6,120.45 L469.07,120.16 L470.55,119.89 L472.02,119.62 L473.5,119.37 L474.98,119.11 L476.46,118.87 L477.94,118.62 L479.42,118.37 L480.9,118.11 L482.37,117.85 L483.85,117.59 L485.33,117.32 L486.8,117.04 L488.27,116.77 L489.74,116.5 L491.2,116.22 L492.63,115.95 L494.03,115.69 L494.5,115.6" fill="none" stroke="#13881a" stroke-width="3" stroke-linecap="round" stroke-linejoin="round"/>
<path d="M376.6,159.1 L377.95,158.46 L379.32,157.87 L380.72,157.37 L382.15,156.95 L383.61,156.62 L385.08,156.35 L386.56,156.14 L388.05,155.96 L389.54,155.82 L391.04,155.69 L392.53,155.58 L394.03,155.47 L395.53,155.38 L397.02,155.3 L398.52,155.22 L400.02,155.14 L401.52,155.06 L403.02,154.99 L404.52,154.92 L406.01,154.85 L407.51,154.78 L409.01,154.72 L410.51,154.66 L412.01,154.61 L413.51,154.55 L415.01,154.5 L416.51,154.45 L418.01,154.41 L419.5,154.36 L421,154.31 L422.5,154.27 L424,154.22 L425.5,154.18 L427,154.14 L428.5,154.09 L430,154.05 L431.5,154.01 L433,153.97 L434.5,153.93 L436,153.89 L437.5,153.86 L439,153.82 L440.5,153.79 L442,153.75 L443.5,153.72 L445,153.69 L446.5,153.66 L448,153.63 L449.49,153.61 L450.99,153.58 L452.49,153.56 L453.96,153.54 L455.41,153.52 L456.83,153.51 L457.3,153.5" fill="none" stroke="#ff8000" stroke-width="3" stroke-linecap="round" stroke-linejoin="round"/>
<path d="M376.6,159.1 L377.36,157.81 L378.17,156.57 L379.08,155.43 L380.13,154.44 L381.32,153.61 L382.63,152.94 L384.01,152.42 L385.44,152.02 L386.9,151.71 L388.38,151.47 L389.86,151.27 L391.35,151.11 L392.85,150.96 L394.34,150.84 L395.84,150.72 L397.33,150.62 L398.83,150.53 L400.33,150.44 L401.82,150.36 L403.32,150.28 L404.82,150.2 L406.32,150.13 L407.82,150.06 L409.32,150 L410.81,149.94 L412.31,149.89 L413.81,149.84 L415.31,149.8 L416.81,149.76 L418.31,149.72 L419.81,149.68 L421.31,149.64 L422.81,149.61 L424.31,149.57 L425.81,149.53 L427.31,149.5 L428.81,149.47 L430.31,149.43 L431.81,149.4 L433.31,149.37 L434.81,149.34 L436.31,149.31 L437.81,149.29 L439.31,149.26 L440.81,149.24 L442.31,149.22 L443.81,149.2 L445.3,149.18 L446.8,149.16 L448.3,149.15 L449.8,149.13 L451.3,149.12 L452.8,149.11 L454.3,149.11 L455.8,149.1 L457.3,149.1" fill="none" stroke="#13881a" stroke-width="3" stroke-linecap="round" stroke-linejoin="round"/>
<rect x="371.4" y="43.3" width="130" height="121.3" fill="none" stroke="#000" stroke-width="3"/>
<text x="369" y="86.03" font-size="13.2" text-anchor="end" textLength="18.3" lengthAdjust="spacingAndGlyphs" >600</text>
<text x="369" y="125.33" font-size="13.2" text-anchor="end" textLength="18.3" lengthAdjust="spacingAndGlyphs" >300</text>
<text x="369" y="163.93" font-size="13.2" text-anchor="end" textLength="6.1" lengthAdjust="spacingAndGlyphs" >0</text>
<text x="375.7" y="177.93" font-size="13.2" text-anchor="middle" textLength="6.1" lengthAdjust="spacingAndGlyphs" >0</text>
<text x="397" y="177.93" font-size="13.2" text-anchor="middle" textLength="12.2" lengthAdjust="spacingAndGlyphs" >20</text>
<text x="418.7" y="177.93" font-size="13.2" text-anchor="middle" textLength="12.2" lengthAdjust="spacingAndGlyphs" >40</text>
<text x="440.2" y="177.93" font-size="13.2" text-anchor="middle" textLength="12.2" lengthAdjust="spacingAndGlyphs" >60</text>
<text x="461.5" y="177.93" font-size="13.2" text-anchor="middle" textLength="12.2" lengthAdjust="spacingAndGlyphs" >80</text>
<text x="483.1" y="177.93" font-size="13.2" text-anchor="middle" textLength="18.3" lengthAdjust="spacingAndGlyphs" >100</text>
<line x1="372.5" y1="81.3" x2="374.5" y2="81.3" stroke="#000" stroke-width="1.2" />
<line x1="372.5" y1="120.6" x2="374.5" y2="120.6" stroke="#000" stroke-width="1.2" />
<text x="403.6" y="190.2" font-size="11.8" style="font-weight:normal" stroke="#000" stroke-width="0.45">C<tspan font-size="6.5" dy="3.8">e</tspan><tspan dy="-3.8">(mg L</tspan><tspan font-size="7" dy="-5.2">-1</tspan><tspan dy="5.2">)</tspan></text>
<text transform="translate(347.3,154.8) rotate(-90)" font-size="14.1">q<tspan font-size="8.74" dy="3.1">e</tspan><tspan dy="-3.1"> (mg g</tspan><tspan font-size="8.74" dy="-5.92">-1</tspan><tspan dy="5.92">)</tspan></text>
<line x1="375.6" y1="47.9" x2="393.4" y2="47.9" stroke="#13881a" stroke-width="2" />
<circle cx="384.5" cy="47.9" r="1.3" fill="#13881a"/>
<line x1="375.6" y1="58.1" x2="393.4" y2="58.1" stroke="#ff8000" stroke-width="2" />
<circle cx="384.5" cy="58.1" r="1.3" fill="#ff8000"/>
<text x="396.3" y="50.5" font-size="8.4" style="font-weight:normal" textLength="39.4" lengthAdjust="spacingAndGlyphs" stroke="#000" stroke-width="0.3">Freundlich</text>
<text x="396.3" y="60.4" font-size="8.4" style="font-weight:normal" textLength="35" lengthAdjust="spacingAndGlyphs" stroke="#000" stroke-width="0.3">Langmuir</text>
<text x="400.8" y="103.2" font-size="10" textLength="89.2" lengthAdjust="spacingAndGlyphs" >Adsorption of Cr(VI)</text>
<text x="515.5" y="17.2" font-size="21" style="font-weight:normal" stroke="#000" stroke-width="0.95" textLength="27.5" lengthAdjust="spacingAndGlyphs">(d)</text>
<circle cx="557.9" cy="12.4" r="3.77" fill="url(#ballg)"/>
<path d="M557.9,19.24 L561.98,22.2 L560.42,27 L555.38,27 L553.82,22.2 Z" fill="#000"/>
<path d="M557.9,30.62 L559.06,33.71 L562.35,33.85 L559.77,35.91 L560.65,39.09 L557.9,37.27 L555.15,39.09 L556.03,35.91 L553.45,33.85 L556.74,33.71 Z" fill="#000"/>
<text x="570.3" y="15.2" font-size="8.1">PEI-<tspan font-style="italic">h</tspan>-BNNSs-loaded aerogel</text>
<text x="570.3" y="25.6" font-size="8.1">Fe<tspan font-size="5" dy="2.8">3</tspan><tspan dy="-2.8">O</tspan><tspan font-size="5" dy="2.8">4</tspan><tspan dy="-2.8">NPs-loaded aerogel</tspan></text>
<text x="570.3" y="38" font-size="8.1">MHAs</text>
<path d="M550.5,146.3 L551.41,148.74 L554.02,148.86 L551.98,150.48 L552.67,152.99 L550.5,151.55 L548.33,152.99 L549.02,150.48 L546.98,148.86 L549.59,148.74 Z" fill="#000"/>
<path d="M552.5,138.3 L553.41,140.74 L556.02,140.86 L553.98,142.48 L554.67,144.99 L552.5,143.55 L550.33,144.99 L551.02,142.48 L548.98,140.86 L551.59,140.74 Z" fill="#000"/>
<path d="M560.2,120.6 L561.11,123.04 L563.72,123.16 L561.68,124.78 L562.37,127.29 L560.2,125.85 L558.03,127.29 L558.72,124.78 L556.68,123.16 L559.29,123.04 Z" fill="#000"/>
<path d="M566.6,112 L567.51,114.44 L570.12,114.56 L568.08,116.18 L568.77,118.69 L566.6,117.25 L564.43,118.69 L565.12,116.18 L563.08,114.56 L565.69,114.44 Z" fill="#000"/>
<path d="M578.5,105.5 L579.41,107.94 L582.02,108.06 L579.98,109.68 L580.67,112.19 L578.5,110.75 L576.33,112.19 L577.02,109.68 L574.98,108.06 L577.59,107.94 Z" fill="#000"/>
<path d="M591.5,95.05 L592.41,97.49 L595.02,97.61 L592.98,99.23 L593.67,101.74 L591.5,100.3 L589.33,101.74 L590.02,99.23 L587.98,97.61 L590.59,97.49 Z" fill="#000"/>
<path d="M606,83.8 L606.91,86.24 L609.52,86.36 L607.48,87.98 L608.17,90.49 L606,89.05 L603.83,90.49 L604.52,87.98 L602.48,86.36 L605.09,86.24 Z" fill="#000"/>
<path d="M627.7,69.6 L628.61,72.04 L631.22,72.16 L629.18,73.78 L629.87,76.29 L627.7,74.85 L625.53,76.29 L626.22,73.78 L624.18,72.16 L626.79,72.04 Z" fill="#000"/>
<path d="M648.5,55.05 L649.41,57.49 L652.02,57.61 L649.98,59.23 L650.67,61.74 L648.5,60.3 L646.33,61.74 L647.02,59.23 L644.98,57.61 L647.59,57.49 Z" fill="#000"/>
<path d="M670.8,42.55 L671.71,44.99 L674.32,45.11 L672.28,46.73 L672.97,49.24 L670.8,47.8 L668.63,49.24 L669.32,46.73 L667.28,45.11 L669.89,44.99 Z" fill="#000"/>
<path d="M550.5,150.03 L553.64,152.31 L552.44,156 L548.56,156 L547.36,152.31 Z" fill="#000"/>
<path d="M553,145.03 L556.14,147.31 L554.94,151 L551.06,151 L549.86,147.31 Z" fill="#000"/>
<path d="M555.9,137.83 L559.04,140.11 L557.84,143.8 L553.96,143.8 L552.76,140.11 Z" fill="#000"/>
<path d="M560.2,134.23 L563.34,136.51 L562.14,140.2 L558.26,140.2 L557.06,136.51 Z" fill="#000"/>
<path d="M566,132.53 L569.14,134.81 L567.94,138.5 L564.06,138.5 L562.86,134.81 Z" fill="#000"/>
<path d="M577,130.13 L580.14,132.41 L578.94,136.1 L575.06,136.1 L573.86,132.41 Z" fill="#000"/>
<path d="M585.5,126.63 L588.64,128.91 L587.44,132.6 L583.56,132.6 L582.36,128.91 Z" fill="#000"/>
<path d="M597.8,119.73 L600.94,122.01 L599.74,125.7 L595.86,125.7 L594.66,122.01 Z" fill="#000"/>
<path d="M615.3,112.33 L618.44,114.61 L617.24,118.3 L613.36,118.3 L612.16,114.61 Z" fill="#000"/>
<path d="M635,107.63 L638.14,109.91 L636.94,113.6 L633.06,113.6 L631.86,109.91 Z" fill="#000"/>
<path d="M650.6,106.73 L653.74,109.01 L652.54,112.7 L648.66,112.7 L647.46,109.01 Z" fill="#000"/>
<path d="M667,104.53 L670.14,106.81 L668.94,110.5 L665.06,110.5 L663.86,106.81 Z" fill="#000"/>
<circle cx="550.5" cy="156" r="3.1" fill="url(#ballg)"/>
<circle cx="552" cy="152.5" r="3.1" fill="url(#ballg)"/>
<circle cx="554.5" cy="150.5" r="3.1" fill="url(#ballg)"/>
<circle cx="558" cy="148.8" r="3.1" fill="url(#ballg)"/>
<circle cx="563" cy="147.3" r="3.1" fill="url(#ballg)"/>
<circle cx="568" cy="146.2" r="3.1" fill="url(#ballg)"/>
<circle cx="578.2" cy="144.8" r="3.1" fill="url(#ballg)"/>
<circle cx="587.8" cy="142.4" r="3.1" fill="url(#ballg)"/>
<circle cx="606.9" cy="140.9" r="3.1" fill="url(#ballg)"/>
<circle cx="623.3" cy="139.8" r="3.1" fill="url(#ballg)"/>
<path d="M551.4,157.5 L551.49,156 L551.59,154.51 L551.67,153.01 L551.75,151.51 L551.83,150.01 L551.9,148.51 L551.96,147.02 L552.02,145.52 L552.08,144.02 L552.14,142.52 L552.2,141.02 L552.28,139.52 L552.38,138.03 L552.49,136.53 L552.63,135.04 L552.78,133.55 L552.96,132.06 L553.17,130.57 L553.4,129.09 L553.66,127.61 L553.94,126.14 L554.25,124.68 L554.6,123.22 L554.98,121.77 L555.39,120.33 L555.85,118.9 L556.34,117.48 L556.87,116.08 L557.43,114.7 L558.06,113.34 L558.76,112.02 L559.54,110.75 L560.41,109.55 L561.37,108.41 L562.41,107.34 L563.49,106.3 L564.6,105.3 L565.72,104.3 L566.85,103.31 L567.98,102.32 L569.12,101.35 L570.26,100.38 L571.43,99.44 L572.62,98.53 L573.83,97.65 L575.07,96.8 L576.33,96 L577.62,95.24 L578.93,94.51 L580.26,93.82 L581.6,93.15 L582.96,92.51 L584.32,91.88 L585.69,91.27 L587.07,90.67 L588.45,90.09 L589.84,89.52 L591.23,88.97 L592.63,88.43 L594.03,87.9 L595.44,87.37 L596.84,86.85 L598.25,86.33 L599.66,85.82 L601.07,85.32 L602.49,84.82 L603.91,84.34 L605.34,83.88 L606.77,83.43 L608.21,83.01 L609.65,82.6 L611.1,82.21 L612.55,81.83 L614,81.47 L615.46,81.1 L616.92,80.75 L618.37,80.4 L619.83,80.05 L621.29,79.71 L622.76,79.37 L624.22,79.03 L625.68,78.7 L627.14,78.36 L628.6,78.02 L630.06,77.67 L631.52,77.31 L632.97,76.94 L634.42,76.57 L635.88,76.19 L637.33,75.81 L638.78,75.44 L640.23,75.06 L641.69,74.69 L643.14,74.32 L644.59,73.96 L646.05,73.6 L647.51,73.25 L648.97,72.91 L650.43,72.59 L651.9,72.28 L653.37,71.99 L654.85,71.71 L656.32,71.44 L657.8,71.18 L659.28,70.92 L660.76,70.68 L662.24,70.44 L663.72,70.21 L665.2,69.99 L666.68,69.79 L668.15,69.6 L669.6,69.42 L671.03,69.25 L671.5,69.2" fill="none" stroke="#1ee81e" stroke-width="3" stroke-linecap="round" stroke-linejoin="round"/>
<path d="M551.4,157.5 L551.76,156.05 L552.15,154.6 L552.56,153.16 L553.03,151.74 L553.56,150.34 L554.15,148.96 L554.8,147.62 L555.49,146.29 L556.2,144.97 L556.93,143.65 L557.65,142.34 L558.36,141.02 L559.08,139.7 L559.8,138.39 L560.52,137.07 L561.24,135.76 L561.95,134.44 L562.66,133.11 L563.35,131.78 L564.03,130.44 L564.69,129.1 L565.36,127.75 L566.03,126.41 L566.7,125.07 L567.38,123.73 L568.08,122.41 L568.79,121.09 L569.52,119.78 L570.26,118.47 L571.02,117.18 L571.79,115.89 L572.56,114.61 L573.35,113.33 L574.16,112.07 L574.98,110.81 L575.81,109.56 L576.66,108.33 L577.53,107.1 L578.41,105.89 L579.31,104.7 L580.23,103.51 L581.15,102.32 L582.08,101.15 L583.03,99.99 L583.99,98.84 L584.98,97.71 L586,96.61 L587.05,95.54 L588.13,94.51 L589.24,93.5 L590.37,92.51 L591.52,91.55 L592.68,90.6 L593.86,89.68 L595.05,88.76 L596.25,87.86 L597.45,86.97 L598.66,86.08 L599.89,85.21 L601.12,84.36 L602.36,83.51 L603.61,82.68 L604.86,81.87 L606.13,81.07 L607.41,80.28 L608.7,79.52 L610,78.77 L611.31,78.03 L612.62,77.32 L613.95,76.61 L615.28,75.92 L616.61,75.23 L617.95,74.55 L619.28,73.87 L620.62,73.19 L621.96,72.51 L623.3,71.84 L624.64,71.16 L625.98,70.49 L627.32,69.83 L628.67,69.16 L630.01,68.48 L631.35,67.81 L632.68,67.13 L634.02,66.44 L635.35,65.75 L636.69,65.07 L638.03,64.41 L639.39,63.77 L640.76,63.16 L642.14,62.58 L643.53,62.03 L644.94,61.5 L646.35,60.99 L647.76,60.5 L649.19,60.02 L650.61,59.56 L652.04,59.11 L653.48,58.66 L654.91,58.23 L656.35,57.81 L657.79,57.4 L659.24,57.01 L660.69,56.63 L662.15,56.26 L663.6,55.9 L665.06,55.56 L666.52,55.24 L667.95,54.93 L669.33,54.64 L670.65,54.37 L671.5,54.2" fill="none" stroke="#ff1010" stroke-width="3" stroke-linecap="round" stroke-linejoin="round"/>
<path d="M551.4,157.5 L551.55,156.01 L551.7,154.51 L551.85,153.02 L552,151.53 L552.17,150.04 L552.36,148.55 L552.59,147.08 L552.88,145.62 L553.28,144.18 L553.8,142.8 L554.45,141.47 L555.22,140.2 L556.1,139 L557.06,137.86 L558.08,136.77 L559.15,135.72 L560.26,134.72 L561.42,133.77 L562.61,132.87 L563.83,132 L565.09,131.18 L566.36,130.4 L567.68,129.69 L569.02,129.06 L570.41,128.52 L571.83,128.06 L573.28,127.68 L574.74,127.35 L576.21,127.05 L577.68,126.76 L579.15,126.48 L580.63,126.19 L582.1,125.9 L583.57,125.59 L585.03,125.28 L586.5,124.97 L587.97,124.65 L589.43,124.34 L590.9,124.03 L592.37,123.72 L593.84,123.41 L595.31,123.11 L596.77,122.81 L598.24,122.51 L599.72,122.21 L601.19,121.93 L602.66,121.65 L604.14,121.38 L605.62,121.13 L607.1,120.89 L608.58,120.66 L610.06,120.43 L611.55,120.22 L613.03,120.01 L614.52,119.8 L616,119.59 L617.49,119.39 L618.97,119.19 L620.46,118.98 L621.95,118.77 L623.43,118.57 L624.92,118.36 L626.4,118.16 L627.89,117.97 L629.38,117.79 L630.87,117.63 L632.36,117.48 L633.86,117.34 L635.35,117.22 L636.85,117.1 L638.34,117 L639.84,116.89 L641.34,116.79 L642.83,116.7 L644.33,116.6 L645.83,116.51 L647.32,116.41 L648.82,116.31 L650.32,116.22 L651.82,116.12 L653.31,116.03 L654.81,115.93 L656.31,115.84 L657.8,115.74 L659.3,115.65 L660.8,115.56 L662.28,115.47 L663.75,115.39 L665.17,115.31 L666.55,115.23 L667,115.2" fill="none" stroke="#1ee81e" stroke-width="3" stroke-linecap="round" stroke-linejoin="round"/>
<path d="M551.4,157.5 L551.62,156.02 L551.85,154.54 L552.1,153.06 L552.41,151.6 L552.82,150.19 L553.4,148.87 L554.17,147.65 L555.14,146.58 L556.25,145.64 L557.47,144.8 L558.74,144.01 L560.01,143.22 L561.27,142.41 L562.52,141.59 L563.77,140.75 L565.02,139.92 L566.27,139.09 L567.51,138.26 L568.76,137.42 L570,136.58 L571.23,135.73 L572.46,134.87 L573.7,134.02 L574.94,133.17 L576.19,132.34 L577.45,131.53 L578.72,130.74 L580.02,129.99 L581.34,129.3 L582.69,128.66 L584.07,128.07 L585.46,127.51 L586.86,126.96 L588.25,126.42 L589.65,125.86 L591.03,125.28 L592.41,124.7 L593.78,124.09 L595.15,123.48 L596.52,122.86 L597.89,122.26 L599.27,121.68 L600.67,121.13 L602.08,120.62 L603.5,120.14 L604.93,119.7 L606.37,119.29 L607.82,118.91 L609.28,118.55 L610.74,118.21 L612.2,117.87 L613.66,117.55 L615.13,117.22 L616.59,116.89 L618.05,116.55 L619.51,116.19 L620.96,115.81 L622.4,115.42 L623.85,115 L625.29,114.59 L626.73,114.17 L628.17,113.77 L629.62,113.39 L631.08,113.03 L632.54,112.7 L634.01,112.4 L635.48,112.12 L636.96,111.86 L638.44,111.61 L639.92,111.37 L641.4,111.13 L642.88,110.9 L644.37,110.68 L645.85,110.45 L647.33,110.22 L648.82,110 L650.3,109.77 L651.78,109.55 L653.26,109.33 L654.75,109.11 L656.23,108.89 L657.72,108.68 L659.2,108.47 L660.68,108.26 L662.15,108.06 L663.57,107.86 L664.94,107.68 L666.25,107.5" fill="none" stroke="#ff1010" stroke-width="3" stroke-linecap="round" stroke-linejoin="round"/>
<path d="M551.4,157.5 L551.62,156.02 L551.85,154.54 L552.1,153.06 L552.42,151.62 L552.86,150.24 L553.49,148.96 L554.35,147.84 L555.41,146.87 L556.63,146.07 L557.94,145.41 L559.32,144.85 L560.73,144.34 L562.13,143.84 L563.52,143.28 L564.87,142.66 L566.21,141.99 L567.55,141.33 L568.9,140.73 L570.3,140.22 L571.74,139.83 L573.2,139.52 L574.67,139.27 L576.16,139.06 L577.64,138.87 L579.13,138.69 L580.62,138.52 L582.11,138.35 L583.6,138.18 L585.09,138.02 L586.59,137.85 L588.08,137.7 L589.57,137.55 L591.06,137.41 L592.56,137.28 L594.05,137.15 L595.55,137.03 L597.04,136.91 L598.54,136.8 L600.03,136.7 L601.53,136.6 L603.03,136.51 L604.53,136.44 L606.03,136.37 L607.52,136.31 L609.02,136.25 L610.52,136.19 L612.02,136.14 L613.52,136.09 L615.02,136.05 L616.52,136.01 L618.01,135.97 L619.49,135.95 L620.95,135.93 L622.37,135.91 L623.3,135.9" fill="none" stroke="#1ee81e" stroke-width="3" stroke-linecap="round" stroke-linejoin="round"/>
<path d="M551.4,157.5 L551.84,156.07 L552.34,154.68 L552.96,153.35 L553.73,152.12 L554.68,151.02 L555.78,150.05 L556.99,149.22 L558.29,148.52 L559.66,147.92 L561.06,147.42 L562.49,146.99 L563.94,146.61 L565.4,146.28 L566.87,145.98 L568.35,145.7 L569.82,145.44 L571.3,145.17 L572.78,144.92 L574.26,144.67 L575.74,144.44 L577.22,144.21 L578.71,144 L580.19,143.81 L581.68,143.62 L583.17,143.45 L584.66,143.3 L586.16,143.15 L587.65,143.01 L589.14,142.87 L590.64,142.74 L592.13,142.61 L593.63,142.48 L595.12,142.34 L596.61,142.21 L598.11,142.07 L599.6,141.94 L601.1,141.81 L602.59,141.69 L604.09,141.58 L605.58,141.48 L607.08,141.38 L608.58,141.29 L610.07,141.2 L611.57,141.11 L613.07,141.03 L614.57,140.95 L616.07,140.88 L617.56,140.81 L619.04,140.75 L620.5,140.7 L621.92,140.65 L623.3,140.6" fill="none" stroke="#ff1010" stroke-width="3" stroke-linecap="round" stroke-linejoin="round"/>
<rect x="544.8" y="41.1" width="134" height="120.3" fill="none" stroke="#000" stroke-width="3"/>
<text x="542.4" y="65.8" font-size="13.4" text-anchor="end" textLength="19.2" lengthAdjust="spacingAndGlyphs" >400</text>
<text x="542.4" y="89.8" font-size="13.4" text-anchor="end" textLength="19.2" lengthAdjust="spacingAndGlyphs" >300</text>
<text x="542.4" y="113.5" font-size="13.4" text-anchor="end" textLength="19.2" lengthAdjust="spacingAndGlyphs" >200</text>
<text x="542.4" y="137.9" font-size="13.4" text-anchor="end" textLength="19.2" lengthAdjust="spacingAndGlyphs" >100</text>
<text x="542.4" y="161.6" font-size="13.4" text-anchor="end" textLength="6.4" lengthAdjust="spacingAndGlyphs" >0</text>
<text x="550.7" y="172.58" font-size="12.8" text-anchor="middle" textLength="5.95" lengthAdjust="spacingAndGlyphs" >0</text>
<text x="575.6" y="172.58" font-size="12.8" text-anchor="middle" textLength="11.9" lengthAdjust="spacingAndGlyphs" >50</text>
<text x="600.5" y="172.58" font-size="12.8" text-anchor="middle" textLength="17.85" lengthAdjust="spacingAndGlyphs" >100</text>
<text x="625.3" y="172.58" font-size="12.8" text-anchor="middle" textLength="17.85" lengthAdjust="spacingAndGlyphs" >150</text>
<text x="650" y="172.58" font-size="12.8" text-anchor="middle" textLength="17.85" lengthAdjust="spacingAndGlyphs" >200</text>
<text x="674.8" y="172.58" font-size="12.8" text-anchor="middle" textLength="17.85" lengthAdjust="spacingAndGlyphs" >250</text>
<line x1="546" y1="61" x2="548" y2="61" stroke="#000" stroke-width="1.2" />
<line x1="546" y1="85" x2="548" y2="85" stroke="#000" stroke-width="1.2" />
<line x1="546" y1="108.7" x2="548" y2="108.7" stroke="#000" stroke-width="1.2" />
<line x1="546" y1="133.1" x2="548" y2="133.1" stroke="#000" stroke-width="1.2" />
<text x="584" y="184.4" font-size="12.4">C<tspan font-size="7" dy="3.8">e</tspan><tspan dy="-3.8">(mg L</tspan><tspan font-size="7.5" dy="-5.5">-1</tspan><tspan dy="5.5">)</tspan></text>
<text transform="translate(518.4,134.8) rotate(-90)" font-size="13.4">q<tspan font-size="8.31" dy="2.95">e</tspan><tspan dy="-2.95"> (mg g</tspan><tspan font-size="8.31" dy="-5.63">-1</tspan><tspan dy="5.63">)</tspan></text>
<line x1="548.8" y1="46.4" x2="567.9" y2="46.4" stroke="#1ee81e" stroke-width="2" />
<circle cx="558.35" cy="46.4" r="1.3" fill="#1ee81e"/>
<line x1="548.8" y1="56.5" x2="567.9" y2="56.5" stroke="#ff1010" stroke-width="2" />
<circle cx="558.35" cy="56.5" r="1.3" fill="#ff1010"/>
<text x="570.5" y="48.7" font-size="8" >Langmuir</text>
<text x="572.8" y="59.3" font-size="8" >Freundlich</text>
<text x="611.1" y="92.5" font-size="10.8" >Adsorption</text>
<text x="611.1" y="106.3" font-size="10.8" >of As(V)</text>
<text x="4.7" y="212.5" font-size="20.48" style="font-weight:normal" stroke="#000" stroke-width="0.95" textLength="27" lengthAdjust="spacingAndGlyphs">(e)</text>
<rect x="63.1" y="342.9" width="18.2" height="8.1" fill="#ebeb00" stroke="#000" stroke-width="0.9"/>
<rect x="81.3" y="336.4" width="18.4" height="14.6" fill="url(#hatchE)" stroke="#000" stroke-width="0.9"/>
<rect x="109.2" y="317.1" width="18.4" height="33.9" fill="#ebeb00" stroke="#000" stroke-width="0.9"/>
<rect x="127.6" y="322.5" width="18.2" height="28.5" fill="url(#hatchE)" stroke="#000" stroke-width="0.9"/>
<rect x="154.5" y="223.1" width="18.9" height="127.9" fill="#ebeb00" stroke="#000" stroke-width="0.9"/>
<rect x="173.4" y="285.3" width="18.5" height="65.7" fill="url(#hatchE)" stroke="#000" stroke-width="0.9"/>
<rect x="64.4" y="214.9" width="77.2" height="39" fill="#fff" stroke="#c8c8c8" stroke-width="0.8"/>
<rect x="68.6" y="221" width="26" height="12.4" fill="#ebeb00" stroke="#000" stroke-width="0.8"/>
<rect x="68.6" y="239.1" width="26" height="12.4" fill="url(#hatchE)" stroke="#000" stroke-width="0.8"/>
<text x="97.5" y="231.7" font-size="13.3" textLength="36.1" lengthAdjust="spacingAndGlyphs" >Cr(VI)</text>
<text x="97.5" y="250.7" font-size="13.3" textLength="31.7" lengthAdjust="spacingAndGlyphs" >As(V)</text>
<rect x="63.7" y="254.4" width="55.1" height="53.2" fill="#9a9aa2"/>
<rect x="86.4" y="281" width="8.8" height="19" fill="#dcdce4"/>
<rect x="63.7" y="301" width="55.1" height="6.6" fill="#a29f95"/>
<rect x="65" y="255.6" width="21.3" height="11.2" rx="2" fill="url(#capg)"/>
<rect x="64.6" y="266.6" width="22" height="15" fill="#cfcfd1"/>
<rect x="64.4" y="281.2" width="22.2" height="24" rx="2" fill="url(#yliq)"/>
<rect x="64.6" y="281.2" width="22" height="1.6" fill="#ece6b0"/>
<rect x="96.2" y="255.2" width="20.6" height="12.3" rx="2" fill="url(#capg)"/>
<rect x="95" y="267.3" width="21.8" height="16.7" fill="#d6d6d8"/>
<rect x="95" y="284" width="21.8" height="3.2" fill="#eeeee8"/>
<rect x="95" y="287.2" width="21.8" height="18.6" rx="1.5" fill="#e2ddb2"/>
<path d="M95,295 Q99,293.6 106,294.4 Q115,294.8 115.8,297.5 Q115.5,302 108,302.6 Q100,302.8 97.5,298.5 Z" fill="#141414"/>
<path d="M99.5,304 Q106,303.2 112.5,304 L112,306 Q106,306.6 100,306 Z" fill="#1c1c1c"/>
<text x="63.3" y="279.6" font-size="13" style="font-weight:normal" stroke="#000" stroke-width="0.75" textLength="29.5" lengthAdjust="spacingAndGlyphs">Cr(VI)</text>
<rect x="58.6" y="213" width="137.7" height="138.6" fill="none" stroke="#000" stroke-width="3.9"/>
<text x="53.4" y="234.18" font-size="15.3" text-anchor="end" textLength="22.05" lengthAdjust="spacingAndGlyphs" >800</text>
<text x="53.4" y="264.98" font-size="15.3" text-anchor="end" textLength="22.05" lengthAdjust="spacingAndGlyphs" >600</text>
<text x="53.4" y="295.28" font-size="15.3" text-anchor="end" textLength="22.05" lengthAdjust="spacingAndGlyphs" >400</text>
<text x="53.4" y="325.38" font-size="15.3" text-anchor="end" textLength="22.05" lengthAdjust="spacingAndGlyphs" >200</text>
<text x="53.4" y="355.88" font-size="15.3" text-anchor="end" textLength="7.35" lengthAdjust="spacingAndGlyphs" >0</text>
<line x1="60" y1="228.7" x2="62" y2="228.7" stroke="#000" stroke-width="1.4" />
<line x1="60" y1="259.5" x2="62" y2="259.5" stroke="#000" stroke-width="1.4" />
<line x1="60" y1="289.6" x2="62" y2="289.6" stroke="#000" stroke-width="1.4" />
<line x1="60" y1="319.6" x2="62" y2="319.6" stroke="#000" stroke-width="1.4" />
<line x1="81.3" y1="352.5" x2="81.3" y2="355" stroke="#000" stroke-width="1.4" />
<line x1="127.6" y1="352.5" x2="127.6" y2="355" stroke="#000" stroke-width="1.4" />
<line x1="173.4" y1="352.5" x2="173.4" y2="355" stroke="#000" stroke-width="1.4" />
<text x="79.9" y="377.3" font-size="20.5" text-anchor="middle" transform="translate(0,377.3) scale(1,1.2) translate(0,-377.3)">i</text>
<text x="125.5" y="377.3" font-size="20.5" text-anchor="middle" transform="translate(0,377.3) scale(1,1.2) translate(0,-377.3)">ii</text>
<text x="172.9" y="377.3" font-size="20.5" text-anchor="middle" transform="translate(0,377.3) scale(1,1.2) translate(0,-377.3)">iii</text>
<text transform="translate(20.6,330.6) rotate(-90)" font-size="19">q<tspan font-size="11.78" dy="4.18">e</tspan><tspan dy="-4.18"> (mg g</tspan><tspan font-size="11.78" dy="-7.98">-1</tspan><tspan dy="7.98">)</tspan></text>
<text x="223.55" y="213.6" font-size="20.48" style="font-weight:normal" stroke="#000" stroke-width="0.95" textLength="23.5" lengthAdjust="spacingAndGlyphs">(f)</text>
<rect x="264" y="237.6" width="24.1" height="112.9" fill="#0e0e9c" stroke="#000" stroke-width="0.9"/>
<rect x="288.1" y="242.5" width="23.4" height="108" fill="#640c9e" stroke="#000" stroke-width="0.9"/>
<rect x="322.8" y="246.1" width="24.2" height="104.4" fill="#0e0e9c" stroke="#000" stroke-width="0.9"/>
<rect x="347" y="252.6" width="23.6" height="97.9" fill="#640c9e" stroke="#000" stroke-width="0.9"/>
<rect x="382" y="264.3" width="23.5" height="86.2" fill="#0e0e9c" stroke="#000" stroke-width="0.9"/>
<rect x="405.5" y="291" width="23.5" height="59.5" fill="#640c9e" stroke="#000" stroke-width="0.9"/>
<line x1="276.3" y1="231" x2="276.3" y2="245.1" stroke="#000" stroke-width="3" />
<line x1="273.9" y1="232" x2="278.7" y2="232" stroke="#000" stroke-width="2" />
<line x1="273.9" y1="244.1" x2="278.7" y2="244.1" stroke="#000" stroke-width="2" />
<line x1="299.9" y1="234.4" x2="299.9" y2="251.4" stroke="#000" stroke-width="3" />
<line x1="297.5" y1="235.4" x2="302.3" y2="235.4" stroke="#000" stroke-width="2" />
<line x1="297.5" y1="250.4" x2="302.3" y2="250.4" stroke="#000" stroke-width="2" />
<line x1="335" y1="240.5" x2="335" y2="252.5" stroke="#000" stroke-width="3" />
<line x1="332.6" y1="241.5" x2="337.4" y2="241.5" stroke="#000" stroke-width="2" />
<line x1="332.6" y1="251.5" x2="337.4" y2="251.5" stroke="#000" stroke-width="2" />
<line x1="358.5" y1="250.7" x2="358.5" y2="259.4" stroke="#000" stroke-width="3" />
<line x1="356.1" y1="251.7" x2="360.9" y2="251.7" stroke="#000" stroke-width="2" />
<line x1="356.1" y1="258.4" x2="360.9" y2="258.4" stroke="#000" stroke-width="2" />
<line x1="393.9" y1="256.9" x2="393.9" y2="272.2" stroke="#000" stroke-width="3" />
<line x1="391.5" y1="257.9" x2="396.3" y2="257.9" stroke="#000" stroke-width="2" />
<line x1="391.5" y1="271.2" x2="396.3" y2="271.2" stroke="#000" stroke-width="2" />
<line x1="417.4" y1="285.3" x2="417.4" y2="296.5" stroke="#000" stroke-width="3" />
<line x1="415" y1="286.3" x2="419.8" y2="286.3" stroke="#000" stroke-width="2" />
<line x1="415" y1="295.5" x2="419.8" y2="295.5" stroke="#000" stroke-width="2" />
<rect x="350.4" y="216.9" width="78.1" height="33.8" fill="#fff" stroke="#c8c8c8" stroke-width="0.8"/>
<rect x="355.3" y="219.3" width="28.7" height="14.1" fill="#0e0e9c" stroke="#000" stroke-width="0.8"/>
<rect x="355.3" y="235.2" width="28.7" height="13.8" fill="#640c9e" stroke="#000" stroke-width="0.8"/>
<text x="387.5" y="231" font-size="12.3" textLength="33.5" lengthAdjust="spacingAndGlyphs" >Cr(VI)</text>
<text x="387.5" y="247.5" font-size="12.3" textLength="32" lengthAdjust="spacingAndGlyphs" >As(V)</text>
<rect x="258.6" y="212.3" width="175.9" height="138.7" fill="none" stroke="#000" stroke-width="3.9"/>
<text x="253.6" y="236.2" font-size="14.8" text-anchor="end" textLength="24" lengthAdjust="spacingAndGlyphs" >100</text>
<text x="253.6" y="260.2" font-size="14.8" text-anchor="end" textLength="16" lengthAdjust="spacingAndGlyphs" >80</text>
<text x="253.6" y="284.7" font-size="14.8" text-anchor="end" textLength="16" lengthAdjust="spacingAndGlyphs" >60</text>
<text x="253.6" y="308.8" font-size="14.8" text-anchor="end" textLength="16" lengthAdjust="spacingAndGlyphs" >40</text>
<text x="253.6" y="333.3" font-size="14.8" text-anchor="end" textLength="16" lengthAdjust="spacingAndGlyphs" >20</text>
<text x="253.6" y="357.1" font-size="14.8" text-anchor="end" textLength="8" lengthAdjust="spacingAndGlyphs" >0</text>
<line x1="260" y1="230.9" x2="262" y2="230.9" stroke="#000" stroke-width="1.4" />
<line x1="260" y1="254.9" x2="262" y2="254.9" stroke="#000" stroke-width="1.4" />
<line x1="260" y1="279.4" x2="262" y2="279.4" stroke="#000" stroke-width="1.4" />
<line x1="260" y1="303.5" x2="262" y2="303.5" stroke="#000" stroke-width="1.4" />
<line x1="260" y1="328" x2="262" y2="328" stroke="#000" stroke-width="1.4" />
<text x="267.3" y="371.8" font-size="14.5" textLength="33.6" lengthAdjust="spacingAndGlyphs" >KOH</text>
<text x="326.8" y="372.9" font-size="14.5" textLength="42.1" lengthAdjust="spacingAndGlyphs" >NaOH</text>
<text x="381.5" y="372.9" font-size="14.5">NH<tspan font-size="8.5" dy="4.2">4</tspan><tspan dy="-4.2">OH</tspan></text>
<line x1="288.1" y1="352.5" x2="288.1" y2="355.5" stroke="#000" stroke-width="1.4" />
<line x1="347" y1="352.5" x2="347" y2="355.5" stroke="#000" stroke-width="1.4" />
<line x1="405.5" y1="352.5" x2="405.5" y2="355.5" stroke="#000" stroke-width="1.4" />
<text transform="translate(224.6,347.4) rotate(-90)" font-size="18.3" textLength="101" lengthAdjust="spacingAndGlyphs">% Recovery</text>
<text x="457" y="210" font-size="20.48" style="font-weight:normal" stroke="#000" stroke-width="0.95" textLength="26" lengthAdjust="spacingAndGlyphs">(g)</text>
<rect x="509.3" y="225.5" width="9.8" height="122.5" fill="url(#hatchG)" stroke="#000" stroke-width="0.9"/>
<rect x="519.1" y="224.5" width="9.5" height="123.5" fill="url(#hatchR)" stroke="#000" stroke-width="0.9"/>
<rect x="532.4" y="226.1" width="9.8" height="121.9" fill="url(#hatchG)" stroke="#000" stroke-width="0.9"/>
<rect x="542.2" y="226.1" width="9.4" height="121.9" fill="url(#hatchR)" stroke="#000" stroke-width="0.9"/>
<rect x="555.6" y="226.1" width="9.4" height="121.9" fill="url(#hatchG)" stroke="#000" stroke-width="0.9"/>
<rect x="565" y="231" width="9.4" height="117" fill="url(#hatchR)" stroke="#000" stroke-width="0.9"/>
<rect x="578.8" y="248.3" width="9.8" height="99.7" fill="url(#hatchG)" stroke="#000" stroke-width="0.9"/>
<rect x="588.6" y="255.4" width="9" height="92.6" fill="url(#hatchR)" stroke="#000" stroke-width="0.9"/>
<rect x="602" y="254.8" width="9.3" height="93.2" fill="url(#hatchG)" stroke="#000" stroke-width="0.9"/>
<rect x="611.3" y="261.3" width="9.6" height="86.7" fill="url(#hatchR)" stroke="#000" stroke-width="0.9"/>
<rect x="625.1" y="261" width="9.3" height="87" fill="url(#hatchG)" stroke="#000" stroke-width="0.9"/>
<rect x="634.4" y="280.5" width="9.5" height="67.5" fill="url(#hatchR)" stroke="#000" stroke-width="0.9"/>
<rect x="648" y="280.5" width="9.6" height="67.5" fill="url(#hatchG)" stroke="#000" stroke-width="0.9"/>
<rect x="657.6" y="299.3" width="9.6" height="48.7" fill="url(#hatchR)" stroke="#000" stroke-width="0.9"/>
<line x1="514.2" y1="218.7" x2="514.2" y2="233.6" stroke="#000" stroke-width="3.2" />
<line x1="511.7" y1="219.7" x2="516.7" y2="219.7" stroke="#000" stroke-width="2" />
<line x1="511.7" y1="232.6" x2="516.7" y2="232.6" stroke="#000" stroke-width="2" />
<line x1="523.85" y1="217.4" x2="523.85" y2="232.7" stroke="#000" stroke-width="3.2" />
<line x1="521.35" y1="218.4" x2="526.35" y2="218.4" stroke="#000" stroke-width="2" />
<line x1="521.35" y1="231.7" x2="526.35" y2="231.7" stroke="#000" stroke-width="2" />
<line x1="537.3" y1="219.6" x2="537.3" y2="232.7" stroke="#000" stroke-width="3.2" />
<line x1="534.8" y1="220.6" x2="539.8" y2="220.6" stroke="#000" stroke-width="2" />
<line x1="534.8" y1="231.7" x2="539.8" y2="231.7" stroke="#000" stroke-width="2" />
<line x1="546.9" y1="219.6" x2="546.9" y2="232.7" stroke="#000" stroke-width="3.2" />
<line x1="544.4" y1="220.6" x2="549.4" y2="220.6" stroke="#000" stroke-width="2" />
<line x1="544.4" y1="231.7" x2="549.4" y2="231.7" stroke="#000" stroke-width="2" />
<line x1="560.3" y1="220.6" x2="560.3" y2="231" stroke="#000" stroke-width="3.2" />
<line x1="557.8" y1="221.6" x2="562.8" y2="221.6" stroke="#000" stroke-width="2" />
<line x1="557.8" y1="230" x2="562.8" y2="230" stroke="#000" stroke-width="2" />
<line x1="569.7" y1="226.1" x2="569.7" y2="236.9" stroke="#000" stroke-width="3.2" />
<line x1="567.2" y1="227.1" x2="572.2" y2="227.1" stroke="#000" stroke-width="2" />
<line x1="567.2" y1="235.9" x2="572.2" y2="235.9" stroke="#000" stroke-width="2" />
<line x1="583.7" y1="241.4" x2="583.7" y2="253.8" stroke="#000" stroke-width="3.2" />
<line x1="581.2" y1="242.4" x2="586.2" y2="242.4" stroke="#000" stroke-width="2" />
<line x1="581.2" y1="252.8" x2="586.2" y2="252.8" stroke="#000" stroke-width="2" />
<line x1="593.1" y1="246.6" x2="593.1" y2="261.9" stroke="#000" stroke-width="3.2" />
<line x1="590.6" y1="247.6" x2="595.6" y2="247.6" stroke="#000" stroke-width="2" />
<line x1="590.6" y1="260.9" x2="595.6" y2="260.9" stroke="#000" stroke-width="2" />
<line x1="606.65" y1="250.5" x2="606.65" y2="260.3" stroke="#000" stroke-width="3.2" />
<line x1="604.15" y1="251.5" x2="609.15" y2="251.5" stroke="#000" stroke-width="2" />
<line x1="604.15" y1="259.3" x2="609.15" y2="259.3" stroke="#000" stroke-width="2" />
<line x1="616.1" y1="255.4" x2="616.1" y2="266.8" stroke="#000" stroke-width="3.2" />
<line x1="613.6" y1="256.4" x2="618.6" y2="256.4" stroke="#000" stroke-width="2" />
<line x1="613.6" y1="265.8" x2="618.6" y2="265.8" stroke="#000" stroke-width="2" />
<line x1="629.75" y1="255.4" x2="629.75" y2="266.8" stroke="#000" stroke-width="3.2" />
<line x1="627.25" y1="256.4" x2="632.25" y2="256.4" stroke="#000" stroke-width="2" />
<line x1="627.25" y1="265.8" x2="632.25" y2="265.8" stroke="#000" stroke-width="2" />
<line x1="639.15" y1="274.9" x2="639.15" y2="286.3" stroke="#000" stroke-width="3.2" />
<line x1="636.65" y1="275.9" x2="641.65" y2="275.9" stroke="#000" stroke-width="2" />
<line x1="636.65" y1="285.3" x2="641.65" y2="285.3" stroke="#000" stroke-width="2" />
<line x1="652.8" y1="274" x2="652.8" y2="286.3" stroke="#000" stroke-width="3.2" />
<line x1="650.3" y1="275" x2="655.3" y2="275" stroke="#000" stroke-width="2" />
<line x1="650.3" y1="285.3" x2="655.3" y2="285.3" stroke="#000" stroke-width="2" />
<line x1="662.4" y1="292.8" x2="662.4" y2="305.2" stroke="#000" stroke-width="3.2" />
<line x1="659.9" y1="293.8" x2="664.9" y2="293.8" stroke="#000" stroke-width="2" />
<line x1="659.9" y1="304.2" x2="664.9" y2="304.2" stroke="#000" stroke-width="2" />
<rect x="590.9" y="214.8" width="28.9" height="14" fill="url(#hatchG)" stroke="#000" stroke-width="0.9"/>
<rect x="590.9" y="231" width="28.9" height="13.5" fill="url(#hatchR)" stroke="#000" stroke-width="0.9"/>
<text x="623.4" y="225.7" font-size="12" textLength="36.2" lengthAdjust="spacingAndGlyphs" >Cr (VI)</text>
<text x="623.4" y="240.9" font-size="12" textLength="34.5" lengthAdjust="spacingAndGlyphs" >As (V)</text>
<rect x="500" y="210.8" width="176.2" height="138.8" fill="none" stroke="#000" stroke-width="4.1"/>
<text x="494.6" y="229.81" font-size="15.4" text-anchor="end" textLength="25.05" lengthAdjust="spacingAndGlyphs" >100</text>
<text x="494.6" y="254.51" font-size="15.4" text-anchor="end" textLength="16.7" lengthAdjust="spacingAndGlyphs" >80</text>
<text x="494.6" y="280.01" font-size="15.4" text-anchor="end" textLength="16.7" lengthAdjust="spacingAndGlyphs" >60</text>
<text x="494.6" y="305.51" font-size="15.4" text-anchor="end" textLength="16.7" lengthAdjust="spacingAndGlyphs" >40</text>
<text x="494.6" y="330.51" font-size="15.4" text-anchor="end" textLength="16.7" lengthAdjust="spacingAndGlyphs" >20</text>
<line x1="501.5" y1="224.3" x2="503.5" y2="224.3" stroke="#000" stroke-width="1.4" />
<line x1="501.5" y1="248.4" x2="503.5" y2="248.4" stroke="#000" stroke-width="1.4" />
<line x1="501.5" y1="274.5" x2="503.5" y2="274.5" stroke="#000" stroke-width="1.4" />
<line x1="501.5" y1="300" x2="503.5" y2="300" stroke="#000" stroke-width="1.4" />
<line x1="501.5" y1="325" x2="503.5" y2="325" stroke="#000" stroke-width="1.4" />
<text x="518.6" y="364.19" font-size="14.5" text-anchor="middle" textLength="8" lengthAdjust="spacingAndGlyphs" >1</text>
<text x="542.2" y="364.19" font-size="14.5" text-anchor="middle" textLength="8" lengthAdjust="spacingAndGlyphs" >2</text>
<text x="564.9" y="364.19" font-size="14.5" text-anchor="middle" textLength="8" lengthAdjust="spacingAndGlyphs" >3</text>
<text x="587.9" y="364.19" font-size="14.5" text-anchor="middle" textLength="8" lengthAdjust="spacingAndGlyphs" >4</text>
<text x="611.5" y="364.19" font-size="14.5" text-anchor="middle" textLength="8" lengthAdjust="spacingAndGlyphs" >5</text>
<text x="635.1" y="364.19" font-size="14.5" text-anchor="middle" textLength="8" lengthAdjust="spacingAndGlyphs" >6</text>
<text x="657.3" y="364.19" font-size="14.5" text-anchor="middle" textLength="8" lengthAdjust="spacingAndGlyphs" >7</text>
<text x="511.6" y="380.2" font-size="17" textLength="141.5" lengthAdjust="spacingAndGlyphs" >Number of cycles</text>
<text transform="translate(466.8,339.8) rotate(-90)" font-size="18.5" textLength="100" lengthAdjust="spacingAndGlyphs">% Recovery</text>
</svg></body></html>
